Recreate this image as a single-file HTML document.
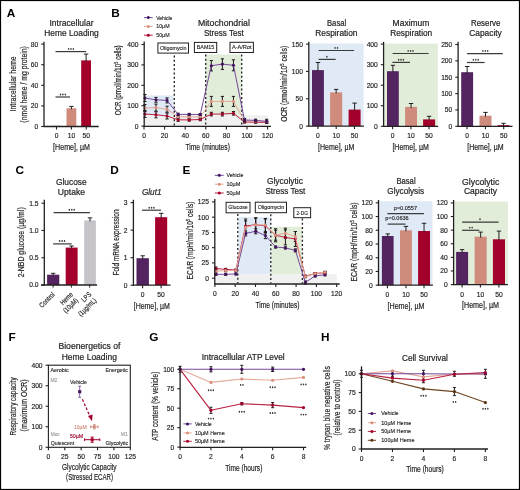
<!DOCTYPE html><html><head><meta charset="utf-8"><style>html,body{margin:0;padding:0;background:#fff;}svg{display:block;will-change:transform;filter:blur(0.3px);}text{font-family:"Liberation Sans",sans-serif;}</style></head><body><svg width="520" height="490" viewBox="0 0 520 490"><rect x="0.5" y="0.5" width="519" height="489" fill="#fff" stroke="#000" stroke-width="1.2"/>
<text x="6.8" y="16.7" font-size="11.8" fill="#000" font-weight="bold">A</text>
<text x="111.2" y="16.6" font-size="11.8" fill="#000" font-weight="bold">B</text>
<text x="15.4" y="174.4" font-size="11.8" fill="#000" font-weight="bold">C</text>
<text x="110.2" y="174.4" font-size="11.8" fill="#000" font-weight="bold">D</text>
<text x="182.4" y="174.4" font-size="11.8" fill="#000" font-weight="bold">E</text>
<text x="8.4" y="340.7" font-size="11.8" fill="#000" font-weight="bold">F</text>
<text x="149.2" y="340.7" font-size="11.8" fill="#000" font-weight="bold">G</text>
<text x="321" y="340.7" font-size="11.8" fill="#000" font-weight="bold">H</text>
<text x="71.5" y="25.8" font-size="8.2" text-anchor="middle" fill="#231f20" stroke="#231f20" stroke-width="0.2" textLength="44" lengthAdjust="spacingAndGlyphs">Intracellular</text>
<text x="71.5" y="36" font-size="8.2" text-anchor="middle" fill="#231f20" stroke="#231f20" stroke-width="0.2" textLength="54.5" lengthAdjust="spacingAndGlyphs">Heme Loading</text>
<rect x="51.5" y="125.88" width="10" height="0.62" fill="#53245f"/>
<rect x="66.5" y="108.27" width="9.8" height="18.23" fill="#cf8c7c"/>
<rect x="81.2" y="60.37" width="9.8" height="66.13" fill="#a3002b"/>
<line x1="71.4" y1="106.41" x2="71.4" y2="109.27" stroke="#231f20" stroke-width="1.0"/>
<line x1="69.2" y1="106.41" x2="73.6" y2="106.41" stroke="#231f20" stroke-width="1.0"/>
<line x1="86.1" y1="54.09" x2="86.1" y2="61.37" stroke="#231f20" stroke-width="1.0"/>
<line x1="83.9" y1="54.09" x2="88.3" y2="54.09" stroke="#231f20" stroke-width="1.0"/>
<line x1="44" y1="41.8" x2="44" y2="127" stroke="#231f20" stroke-width="1.3"/>
<line x1="43.5" y1="126.5" x2="98.7" y2="126.5" stroke="#231f20" stroke-width="1.3"/>
<line x1="41.2" y1="126.5" x2="44" y2="126.5" stroke="#231f20" stroke-width="1.1"/>
<text x="38.2" y="128.9" font-size="6.7" text-anchor="end" fill="#231f20" stroke="#231f20" stroke-width="0.17">0</text>
<line x1="41.2" y1="105.9" x2="44" y2="105.9" stroke="#231f20" stroke-width="1.1"/>
<text x="38.2" y="108.3" font-size="6.7" text-anchor="end" fill="#231f20" stroke="#231f20" stroke-width="0.17">20</text>
<line x1="41.2" y1="85.3" x2="44" y2="85.3" stroke="#231f20" stroke-width="1.1"/>
<text x="38.2" y="87.7" font-size="6.7" text-anchor="end" fill="#231f20" stroke="#231f20" stroke-width="0.17">40</text>
<line x1="41.2" y1="64.7" x2="44" y2="64.7" stroke="#231f20" stroke-width="1.1"/>
<text x="38.2" y="67.1" font-size="6.7" text-anchor="end" fill="#231f20" stroke="#231f20" stroke-width="0.17">60</text>
<line x1="41.2" y1="44.1" x2="44" y2="44.1" stroke="#231f20" stroke-width="1.1"/>
<text x="38.2" y="46.5" font-size="6.7" text-anchor="end" fill="#231f20" stroke="#231f20" stroke-width="0.17">80</text>
<line x1="56.5" y1="126.5" x2="56.5" y2="129.5" stroke="#231f20" stroke-width="1.1"/>
<text x="56.5" y="138.2" font-size="6.7" text-anchor="middle" fill="#231f20" stroke="#231f20" stroke-width="0.17">0</text>
<line x1="71.4" y1="126.5" x2="71.4" y2="129.5" stroke="#231f20" stroke-width="1.1"/>
<text x="71.4" y="138.2" font-size="6.7" text-anchor="middle" fill="#231f20" stroke="#231f20" stroke-width="0.17">10</text>
<line x1="86.2" y1="126.5" x2="86.2" y2="129.5" stroke="#231f20" stroke-width="1.1"/>
<text x="86.2" y="138.2" font-size="6.7" text-anchor="middle" fill="#231f20" stroke="#231f20" stroke-width="0.17">50</text>
<line x1="55.5" y1="51.6" x2="86.1" y2="51.6" stroke="#3a3a3a" stroke-width="1.2"/>
<ellipse cx="68.6" cy="48.9" rx="0.75" ry="0.95" fill="#333"/>
<ellipse cx="71" cy="48.9" rx="0.75" ry="0.95" fill="#333"/>
<ellipse cx="73.4" cy="48.9" rx="0.75" ry="0.95" fill="#333"/>
<line x1="55.5" y1="97" x2="70" y2="97" stroke="#3a3a3a" stroke-width="1.2"/>
<ellipse cx="60.5" cy="94.5" rx="0.75" ry="0.95" fill="#333"/>
<ellipse cx="62.9" cy="94.5" rx="0.75" ry="0.95" fill="#333"/>
<ellipse cx="65.3" cy="94.5" rx="0.75" ry="0.95" fill="#333"/>
<text x="71.5" y="149.8" font-size="8.5" text-anchor="middle" fill="#231f20" stroke="#231f20" stroke-width="0.2" textLength="36.8" lengthAdjust="spacingAndGlyphs">[Heme], µM</text>
<text x="16" y="83.9" font-size="9.2" text-anchor="middle" fill="#231f20" stroke="#231f20" stroke-width="0.2" textLength="55" lengthAdjust="spacingAndGlyphs" transform="rotate(-90 16 83.9)">Intracellular heme</text>
<text x="26.6" y="84.4" font-size="9.2" text-anchor="middle" fill="#231f20" stroke="#231f20" stroke-width="0.2" textLength="76.5" lengthAdjust="spacingAndGlyphs" transform="rotate(-90 26.6 84.4)">(nmol heme / mg protein)</text>
<rect x="144.6" y="95.4" width="28.8" height="19.8" fill="#dfeaf6"/>
<rect x="205.6" y="54.4" width="36" height="60.8" fill="#e2edd9"/>
<rect x="144.6" y="115.2" width="123.4" height="10.8" fill="#f0f0f0"/>
<line x1="174.3" y1="55.5" x2="174.3" y2="126" stroke="#222" stroke-width="1.35" stroke-dasharray="1.9 2.35"/>
<line x1="205.7" y1="54.5" x2="205.7" y2="126" stroke="#222" stroke-width="1.35" stroke-dasharray="1.9 2.35"/>
<line x1="241.7" y1="54.5" x2="241.7" y2="126" stroke="#222" stroke-width="1.35" stroke-dasharray="1.9 2.35"/>
<rect x="157.9" y="43" width="30.6" height="10.1" fill="#fff" stroke="#231f20" stroke-width="1.0"/>
<text x="173.2" y="49.85" font-size="5.0" text-anchor="middle" fill="#231f20" stroke="#231f20" stroke-width="0.12" textLength="26.5" lengthAdjust="spacingAndGlyphs">Oligomycin</text>
<rect x="194.4" y="42.4" width="22.3" height="10.1" fill="#fff" stroke="#231f20" stroke-width="1.0"/>
<text x="205.55" y="49.25" font-size="5.0" text-anchor="middle" fill="#231f20" stroke="#231f20" stroke-width="0.12" textLength="17.5" lengthAdjust="spacingAndGlyphs">BAM15</text>
<rect x="230" y="42.3" width="23.4" height="10.2" fill="#fff" stroke="#231f20" stroke-width="1.0"/>
<text x="241.7" y="49.2" font-size="5.0" text-anchor="middle" fill="#231f20" stroke="#231f20" stroke-width="0.12" textLength="19.5" lengthAdjust="spacingAndGlyphs">A-A/Rot</text>
<line x1="144.9" y1="110.5" x2="144.9" y2="117.5" stroke="#231f20" stroke-width="1.05"/>
<line x1="143.3" y1="110.5" x2="146.5" y2="110.5" stroke="#231f20" stroke-width="1.05"/>
<line x1="143.3" y1="117.5" x2="146.5" y2="117.5" stroke="#231f20" stroke-width="1.05"/>
<line x1="155.97" y1="111.8" x2="155.97" y2="117.8" stroke="#231f20" stroke-width="1.05"/>
<line x1="154.37" y1="111.8" x2="157.57" y2="111.8" stroke="#231f20" stroke-width="1.05"/>
<line x1="154.37" y1="117.8" x2="157.57" y2="117.8" stroke="#231f20" stroke-width="1.05"/>
<line x1="167.04" y1="113" x2="167.04" y2="119" stroke="#231f20" stroke-width="1.05"/>
<line x1="165.44" y1="113" x2="168.64" y2="113" stroke="#231f20" stroke-width="1.05"/>
<line x1="165.44" y1="119" x2="168.64" y2="119" stroke="#231f20" stroke-width="1.05"/>
<line x1="178.11" y1="118.3" x2="178.11" y2="121.3" stroke="#231f20" stroke-width="1.05"/>
<line x1="176.51" y1="118.3" x2="179.71" y2="118.3" stroke="#231f20" stroke-width="1.05"/>
<line x1="176.51" y1="121.3" x2="179.71" y2="121.3" stroke="#231f20" stroke-width="1.05"/>
<line x1="189.18" y1="118.7" x2="189.18" y2="121.1" stroke="#231f20" stroke-width="1.05"/>
<line x1="187.58" y1="118.7" x2="190.78" y2="118.7" stroke="#231f20" stroke-width="1.05"/>
<line x1="187.58" y1="121.1" x2="190.78" y2="121.1" stroke="#231f20" stroke-width="1.05"/>
<line x1="200.25" y1="118.3" x2="200.25" y2="120.7" stroke="#231f20" stroke-width="1.05"/>
<line x1="198.65" y1="118.3" x2="201.85" y2="118.3" stroke="#231f20" stroke-width="1.05"/>
<line x1="198.65" y1="120.7" x2="201.85" y2="120.7" stroke="#231f20" stroke-width="1.05"/>
<line x1="211.32" y1="112.3" x2="211.32" y2="115.9" stroke="#231f20" stroke-width="1.05"/>
<line x1="209.72" y1="112.3" x2="212.92" y2="112.3" stroke="#231f20" stroke-width="1.05"/>
<line x1="209.72" y1="115.9" x2="212.92" y2="115.9" stroke="#231f20" stroke-width="1.05"/>
<line x1="222.39" y1="112.3" x2="222.39" y2="115.9" stroke="#231f20" stroke-width="1.05"/>
<line x1="220.79" y1="112.3" x2="223.99" y2="112.3" stroke="#231f20" stroke-width="1.05"/>
<line x1="220.79" y1="115.9" x2="223.99" y2="115.9" stroke="#231f20" stroke-width="1.05"/>
<line x1="233.46" y1="111.5" x2="233.46" y2="115.1" stroke="#231f20" stroke-width="1.05"/>
<line x1="231.86" y1="111.5" x2="235.06" y2="111.5" stroke="#231f20" stroke-width="1.05"/>
<line x1="231.86" y1="115.1" x2="235.06" y2="115.1" stroke="#231f20" stroke-width="1.05"/>
<line x1="244.53" y1="121" x2="244.53" y2="123" stroke="#231f20" stroke-width="1.05"/>
<line x1="242.93" y1="121" x2="246.13" y2="121" stroke="#231f20" stroke-width="1.05"/>
<line x1="242.93" y1="123" x2="246.13" y2="123" stroke="#231f20" stroke-width="1.05"/>
<line x1="255.6" y1="121.2" x2="255.6" y2="123.2" stroke="#231f20" stroke-width="1.05"/>
<line x1="254" y1="121.2" x2="257.2" y2="121.2" stroke="#231f20" stroke-width="1.05"/>
<line x1="254" y1="123.2" x2="257.2" y2="123.2" stroke="#231f20" stroke-width="1.05"/>
<line x1="266.67" y1="121.4" x2="266.67" y2="123.4" stroke="#231f20" stroke-width="1.05"/>
<line x1="265.07" y1="121.4" x2="268.27" y2="121.4" stroke="#231f20" stroke-width="1.05"/>
<line x1="265.07" y1="123.4" x2="268.27" y2="123.4" stroke="#231f20" stroke-width="1.05"/>
<polyline points="144.9,114 155.97,114.8 167.04,116 178.11,119.8 189.18,119.9 200.25,119.5 211.32,114.1 222.39,114.1 233.46,113.3 244.53,122 255.6,122.2 266.67,122.4" fill="none" stroke="#b8203f" stroke-width="1.0" stroke-linejoin="round"/>
<circle cx="144.9" cy="114" r="1.55" fill="#a3002b"/>
<circle cx="155.97" cy="114.8" r="1.55" fill="#a3002b"/>
<circle cx="167.04" cy="116" r="1.55" fill="#a3002b"/>
<circle cx="178.11" cy="119.8" r="1.55" fill="#a3002b"/>
<circle cx="189.18" cy="119.9" r="1.55" fill="#a3002b"/>
<circle cx="200.25" cy="119.5" r="1.55" fill="#a3002b"/>
<circle cx="211.32" cy="114.1" r="1.55" fill="#a3002b"/>
<circle cx="222.39" cy="114.1" r="1.55" fill="#a3002b"/>
<circle cx="233.46" cy="113.3" r="1.55" fill="#a3002b"/>
<circle cx="244.53" cy="122" r="1.55" fill="#a3002b"/>
<circle cx="255.6" cy="122.2" r="1.55" fill="#a3002b"/>
<circle cx="266.67" cy="122.4" r="1.55" fill="#a3002b"/>
<line x1="144.9" y1="104.5" x2="144.9" y2="111.5" stroke="#231f20" stroke-width="1.05"/>
<line x1="143.3" y1="104.5" x2="146.5" y2="104.5" stroke="#231f20" stroke-width="1.05"/>
<line x1="143.3" y1="111.5" x2="146.5" y2="111.5" stroke="#231f20" stroke-width="1.05"/>
<line x1="155.97" y1="104.1" x2="155.97" y2="111.1" stroke="#231f20" stroke-width="1.05"/>
<line x1="154.37" y1="104.1" x2="157.57" y2="104.1" stroke="#231f20" stroke-width="1.05"/>
<line x1="154.37" y1="111.1" x2="157.57" y2="111.1" stroke="#231f20" stroke-width="1.05"/>
<line x1="167.04" y1="106.2" x2="167.04" y2="112.2" stroke="#231f20" stroke-width="1.05"/>
<line x1="165.44" y1="106.2" x2="168.64" y2="106.2" stroke="#231f20" stroke-width="1.05"/>
<line x1="165.44" y1="112.2" x2="168.64" y2="112.2" stroke="#231f20" stroke-width="1.05"/>
<line x1="178.11" y1="115.7" x2="178.11" y2="117.7" stroke="#231f20" stroke-width="1.05"/>
<line x1="176.51" y1="115.7" x2="179.71" y2="115.7" stroke="#231f20" stroke-width="1.05"/>
<line x1="176.51" y1="117.7" x2="179.71" y2="117.7" stroke="#231f20" stroke-width="1.05"/>
<line x1="189.18" y1="116" x2="189.18" y2="118" stroke="#231f20" stroke-width="1.05"/>
<line x1="187.58" y1="116" x2="190.78" y2="116" stroke="#231f20" stroke-width="1.05"/>
<line x1="187.58" y1="118" x2="190.78" y2="118" stroke="#231f20" stroke-width="1.05"/>
<line x1="200.25" y1="115.8" x2="200.25" y2="117.8" stroke="#231f20" stroke-width="1.05"/>
<line x1="198.65" y1="115.8" x2="201.85" y2="115.8" stroke="#231f20" stroke-width="1.05"/>
<line x1="198.65" y1="117.8" x2="201.85" y2="117.8" stroke="#231f20" stroke-width="1.05"/>
<line x1="211.32" y1="96.4" x2="211.32" y2="106.4" stroke="#231f20" stroke-width="1.05"/>
<line x1="209.72" y1="96.4" x2="212.92" y2="96.4" stroke="#231f20" stroke-width="1.05"/>
<line x1="209.72" y1="106.4" x2="212.92" y2="106.4" stroke="#231f20" stroke-width="1.05"/>
<line x1="222.39" y1="96.4" x2="222.39" y2="106.4" stroke="#231f20" stroke-width="1.05"/>
<line x1="220.79" y1="96.4" x2="223.99" y2="96.4" stroke="#231f20" stroke-width="1.05"/>
<line x1="220.79" y1="106.4" x2="223.99" y2="106.4" stroke="#231f20" stroke-width="1.05"/>
<line x1="233.46" y1="96.4" x2="233.46" y2="106.4" stroke="#231f20" stroke-width="1.05"/>
<line x1="231.86" y1="96.4" x2="235.06" y2="96.4" stroke="#231f20" stroke-width="1.05"/>
<line x1="231.86" y1="106.4" x2="235.06" y2="106.4" stroke="#231f20" stroke-width="1.05"/>
<line x1="244.53" y1="119.8" x2="244.53" y2="121.8" stroke="#231f20" stroke-width="1.05"/>
<line x1="242.93" y1="119.8" x2="246.13" y2="119.8" stroke="#231f20" stroke-width="1.05"/>
<line x1="242.93" y1="121.8" x2="246.13" y2="121.8" stroke="#231f20" stroke-width="1.05"/>
<line x1="255.6" y1="120.2" x2="255.6" y2="122.2" stroke="#231f20" stroke-width="1.05"/>
<line x1="254" y1="120.2" x2="257.2" y2="120.2" stroke="#231f20" stroke-width="1.05"/>
<line x1="254" y1="122.2" x2="257.2" y2="122.2" stroke="#231f20" stroke-width="1.05"/>
<line x1="266.67" y1="120.8" x2="266.67" y2="122.8" stroke="#231f20" stroke-width="1.05"/>
<line x1="265.07" y1="120.8" x2="268.27" y2="120.8" stroke="#231f20" stroke-width="1.05"/>
<line x1="265.07" y1="122.8" x2="268.27" y2="122.8" stroke="#231f20" stroke-width="1.05"/>
<polyline points="144.9,108 155.97,107.6 167.04,109.2 178.11,116.7 189.18,117 200.25,116.8 211.32,101.4 222.39,101.4 233.46,101.4 244.53,120.8 255.6,121.2 266.67,121.8" fill="none" stroke="#e4a898" stroke-width="1.0" stroke-linejoin="round"/>
<circle cx="144.9" cy="108" r="1.55" fill="#d8907f"/>
<circle cx="155.97" cy="107.6" r="1.55" fill="#d8907f"/>
<circle cx="167.04" cy="109.2" r="1.55" fill="#d8907f"/>
<circle cx="178.11" cy="116.7" r="1.55" fill="#d8907f"/>
<circle cx="189.18" cy="117" r="1.55" fill="#d8907f"/>
<circle cx="200.25" cy="116.8" r="1.55" fill="#d8907f"/>
<circle cx="211.32" cy="101.4" r="1.55" fill="#d8907f"/>
<circle cx="222.39" cy="101.4" r="1.55" fill="#d8907f"/>
<circle cx="233.46" cy="101.4" r="1.55" fill="#d8907f"/>
<circle cx="244.53" cy="120.8" r="1.55" fill="#d8907f"/>
<circle cx="255.6" cy="121.2" r="1.55" fill="#d8907f"/>
<circle cx="266.67" cy="121.8" r="1.55" fill="#d8907f"/>
<line x1="144.9" y1="94.5" x2="144.9" y2="101.5" stroke="#231f20" stroke-width="1.05"/>
<line x1="143.3" y1="94.5" x2="146.5" y2="94.5" stroke="#231f20" stroke-width="1.05"/>
<line x1="143.3" y1="101.5" x2="146.5" y2="101.5" stroke="#231f20" stroke-width="1.05"/>
<line x1="155.97" y1="97.4" x2="155.97" y2="102.2" stroke="#231f20" stroke-width="1.05"/>
<line x1="154.37" y1="97.4" x2="157.57" y2="97.4" stroke="#231f20" stroke-width="1.05"/>
<line x1="154.37" y1="102.2" x2="157.57" y2="102.2" stroke="#231f20" stroke-width="1.05"/>
<line x1="167.04" y1="97.9" x2="167.04" y2="102.9" stroke="#231f20" stroke-width="1.05"/>
<line x1="165.44" y1="97.9" x2="168.64" y2="97.9" stroke="#231f20" stroke-width="1.05"/>
<line x1="165.44" y1="102.9" x2="168.64" y2="102.9" stroke="#231f20" stroke-width="1.05"/>
<line x1="178.11" y1="113.2" x2="178.11" y2="115.6" stroke="#231f20" stroke-width="1.05"/>
<line x1="176.51" y1="113.2" x2="179.71" y2="113.2" stroke="#231f20" stroke-width="1.05"/>
<line x1="176.51" y1="115.6" x2="179.71" y2="115.6" stroke="#231f20" stroke-width="1.05"/>
<line x1="189.18" y1="113.4" x2="189.18" y2="115.4" stroke="#231f20" stroke-width="1.05"/>
<line x1="187.58" y1="113.4" x2="190.78" y2="113.4" stroke="#231f20" stroke-width="1.05"/>
<line x1="187.58" y1="115.4" x2="190.78" y2="115.4" stroke="#231f20" stroke-width="1.05"/>
<line x1="200.25" y1="113.5" x2="200.25" y2="115.5" stroke="#231f20" stroke-width="1.05"/>
<line x1="198.65" y1="113.5" x2="201.85" y2="113.5" stroke="#231f20" stroke-width="1.05"/>
<line x1="198.65" y1="115.5" x2="201.85" y2="115.5" stroke="#231f20" stroke-width="1.05"/>
<line x1="211.32" y1="60.5" x2="211.32" y2="70.9" stroke="#231f20" stroke-width="1.05"/>
<line x1="209.72" y1="60.5" x2="212.92" y2="60.5" stroke="#231f20" stroke-width="1.05"/>
<line x1="209.72" y1="70.9" x2="212.92" y2="70.9" stroke="#231f20" stroke-width="1.05"/>
<line x1="222.39" y1="58.8" x2="222.39" y2="69.4" stroke="#231f20" stroke-width="1.05"/>
<line x1="220.79" y1="58.8" x2="223.99" y2="58.8" stroke="#231f20" stroke-width="1.05"/>
<line x1="220.79" y1="69.4" x2="223.99" y2="69.4" stroke="#231f20" stroke-width="1.05"/>
<line x1="233.46" y1="59.8" x2="233.46" y2="70.8" stroke="#231f20" stroke-width="1.05"/>
<line x1="231.86" y1="59.8" x2="235.06" y2="59.8" stroke="#231f20" stroke-width="1.05"/>
<line x1="231.86" y1="70.8" x2="235.06" y2="70.8" stroke="#231f20" stroke-width="1.05"/>
<line x1="244.53" y1="118.5" x2="244.53" y2="121.5" stroke="#231f20" stroke-width="1.05"/>
<line x1="242.93" y1="118.5" x2="246.13" y2="118.5" stroke="#231f20" stroke-width="1.05"/>
<line x1="242.93" y1="121.5" x2="246.13" y2="121.5" stroke="#231f20" stroke-width="1.05"/>
<line x1="255.6" y1="119.2" x2="255.6" y2="121.6" stroke="#231f20" stroke-width="1.05"/>
<line x1="254" y1="119.2" x2="257.2" y2="119.2" stroke="#231f20" stroke-width="1.05"/>
<line x1="254" y1="121.6" x2="257.2" y2="121.6" stroke="#231f20" stroke-width="1.05"/>
<line x1="266.67" y1="119.3" x2="266.67" y2="123.3" stroke="#231f20" stroke-width="1.05"/>
<line x1="265.07" y1="119.3" x2="268.27" y2="119.3" stroke="#231f20" stroke-width="1.05"/>
<line x1="265.07" y1="123.3" x2="268.27" y2="123.3" stroke="#231f20" stroke-width="1.05"/>
<polyline points="144.9,98 155.97,99.8 167.04,100.4 178.11,114.4 189.18,114.4 200.25,114.5 211.32,65.7 222.39,64.1 233.46,65.3 244.53,120 255.6,120.4 266.67,121.3" fill="none" stroke="#74489a" stroke-width="1.0" stroke-linejoin="round"/>
<circle cx="144.9" cy="98" r="1.55" fill="#43125f"/>
<circle cx="155.97" cy="99.8" r="1.55" fill="#43125f"/>
<circle cx="167.04" cy="100.4" r="1.55" fill="#43125f"/>
<circle cx="178.11" cy="114.4" r="1.55" fill="#43125f"/>
<circle cx="189.18" cy="114.4" r="1.55" fill="#43125f"/>
<circle cx="200.25" cy="114.5" r="1.55" fill="#43125f"/>
<circle cx="211.32" cy="65.7" r="1.55" fill="#43125f"/>
<circle cx="222.39" cy="64.1" r="1.55" fill="#43125f"/>
<circle cx="233.46" cy="65.3" r="1.55" fill="#43125f"/>
<circle cx="244.53" cy="120" r="1.55" fill="#43125f"/>
<circle cx="255.6" cy="120.4" r="1.55" fill="#43125f"/>
<circle cx="266.67" cy="121.3" r="1.55" fill="#43125f"/>
<line x1="144.2" y1="41.5" x2="144.2" y2="126.9" stroke="#231f20" stroke-width="1.3"/>
<line x1="143.7" y1="126.4" x2="271" y2="126.4" stroke="#231f20" stroke-width="1.3"/>
<line x1="141.4" y1="126.1" x2="144.2" y2="126.1" stroke="#231f20" stroke-width="1.1"/>
<text x="138.4" y="128.5" font-size="6.7" text-anchor="end" fill="#231f20" stroke="#231f20" stroke-width="0.17">0</text>
<line x1="141.4" y1="105.7" x2="144.2" y2="105.7" stroke="#231f20" stroke-width="1.1"/>
<text x="138.4" y="108.1" font-size="6.7" text-anchor="end" fill="#231f20" stroke="#231f20" stroke-width="0.17">100</text>
<line x1="141.4" y1="85.3" x2="144.2" y2="85.3" stroke="#231f20" stroke-width="1.1"/>
<text x="138.4" y="87.7" font-size="6.7" text-anchor="end" fill="#231f20" stroke="#231f20" stroke-width="0.17">200</text>
<line x1="141.4" y1="64.9" x2="144.2" y2="64.9" stroke="#231f20" stroke-width="1.1"/>
<text x="138.4" y="67.3" font-size="6.7" text-anchor="end" fill="#231f20" stroke="#231f20" stroke-width="0.17">300</text>
<line x1="141.4" y1="44.5" x2="144.2" y2="44.5" stroke="#231f20" stroke-width="1.1"/>
<text x="138.4" y="46.9" font-size="6.7" text-anchor="end" fill="#231f20" stroke="#231f20" stroke-width="0.17">400</text>
<line x1="144" y1="126.4" x2="144" y2="129.4" stroke="#231f20" stroke-width="1.1"/>
<text x="144" y="138.2" font-size="6.7" text-anchor="middle" fill="#231f20" stroke="#231f20" stroke-width="0.17">0</text>
<line x1="164.6" y1="126.4" x2="164.6" y2="129.4" stroke="#231f20" stroke-width="1.1"/>
<text x="164.6" y="138.2" font-size="6.7" text-anchor="middle" fill="#231f20" stroke="#231f20" stroke-width="0.17">20</text>
<line x1="185.2" y1="126.4" x2="185.2" y2="129.4" stroke="#231f20" stroke-width="1.1"/>
<text x="185.2" y="138.2" font-size="6.7" text-anchor="middle" fill="#231f20" stroke="#231f20" stroke-width="0.17">40</text>
<line x1="205.8" y1="126.4" x2="205.8" y2="129.4" stroke="#231f20" stroke-width="1.1"/>
<text x="205.8" y="138.2" font-size="6.7" text-anchor="middle" fill="#231f20" stroke="#231f20" stroke-width="0.17">60</text>
<line x1="226.4" y1="126.4" x2="226.4" y2="129.4" stroke="#231f20" stroke-width="1.1"/>
<text x="226.4" y="138.2" font-size="6.7" text-anchor="middle" fill="#231f20" stroke="#231f20" stroke-width="0.17">80</text>
<line x1="247" y1="126.4" x2="247" y2="129.4" stroke="#231f20" stroke-width="1.1"/>
<text x="247" y="138.2" font-size="6.7" text-anchor="middle" fill="#231f20" stroke="#231f20" stroke-width="0.17">100</text>
<line x1="267.6" y1="126.4" x2="267.6" y2="129.4" stroke="#231f20" stroke-width="1.1"/>
<text x="267.6" y="138.2" font-size="6.7" text-anchor="middle" fill="#231f20" stroke="#231f20" stroke-width="0.17">120</text>
<text x="207.7" y="149.6" font-size="8.5" text-anchor="middle" fill="#231f20" stroke="#231f20" stroke-width="0.2" textLength="44.5" lengthAdjust="spacingAndGlyphs">Time (minutes)</text>
<text x="121.3" y="80.3" font-size="9.2" text-anchor="middle" fill="#231f20" stroke="#231f20" stroke-width="0.2" textLength="70" lengthAdjust="spacingAndGlyphs" transform="rotate(-90 121.3 80.3)">OCR (pmol/min/10<tspan font-size="5.6" dy="-2.9">5</tspan><tspan dy="2.9"> cells)</tspan></text>
<text x="223.9" y="25.8" font-size="8.2" text-anchor="middle" fill="#231f20" stroke="#231f20" stroke-width="0.2" textLength="52" lengthAdjust="spacingAndGlyphs">Mitochondrial</text>
<text x="223.9" y="36.2" font-size="8.2" text-anchor="middle" fill="#231f20" stroke="#231f20" stroke-width="0.2" textLength="40" lengthAdjust="spacingAndGlyphs">Stress Test</text>
<line x1="144" y1="17.6" x2="152.7" y2="17.6" stroke="#74489a" stroke-width="1.0"/>
<circle cx="148.3" cy="17.6" r="1.5" fill="#43125f"/>
<text x="156.2" y="19.51" font-size="5.3" fill="#231f20" stroke="#231f20" stroke-width="0.13" textLength="16.1" lengthAdjust="spacingAndGlyphs">Vehicle</text>
<line x1="144" y1="26.4" x2="152.7" y2="26.4" stroke="#e4a898" stroke-width="1.0"/>
<circle cx="148.3" cy="26.4" r="1.5" fill="#d8907f"/>
<text x="156.2" y="28.31" font-size="5.3" fill="#231f20" stroke="#231f20" stroke-width="0.13" textLength="13.4" lengthAdjust="spacingAndGlyphs">10µM</text>
<line x1="144" y1="35.2" x2="152.7" y2="35.2" stroke="#b8203f" stroke-width="1.0"/>
<circle cx="148.3" cy="35.2" r="1.5" fill="#a3002b"/>
<text x="156.2" y="37.11" font-size="5.3" fill="#231f20" stroke="#231f20" stroke-width="0.13" textLength="13.4" lengthAdjust="spacingAndGlyphs">50µM</text>
<rect x="309.4" y="43.4" width="54.2" height="82.2" fill="#dfeaf6"/>
<rect x="312" y="70.1" width="11.9" height="56" fill="#53245f"/>
<line x1="317.95" y1="62.5" x2="317.95" y2="71.1" stroke="#231f20" stroke-width="1.0"/>
<line x1="315.75" y1="62.5" x2="320.15" y2="62.5" stroke="#231f20" stroke-width="1.0"/>
<rect x="330.1" y="92.4" width="12.1" height="33.7" fill="#cf8c7c"/>
<line x1="336.15" y1="89.4" x2="336.15" y2="93.4" stroke="#231f20" stroke-width="1.0"/>
<line x1="333.95" y1="89.4" x2="338.35" y2="89.4" stroke="#231f20" stroke-width="1.0"/>
<rect x="348.6" y="109.6" width="12" height="16.5" fill="#a3002b"/>
<line x1="354.6" y1="103.1" x2="354.6" y2="110.6" stroke="#231f20" stroke-width="1.0"/>
<line x1="352.4" y1="103.1" x2="356.8" y2="103.1" stroke="#231f20" stroke-width="1.0"/>
<line x1="308.8" y1="41.8" x2="308.8" y2="126.6" stroke="#231f20" stroke-width="1.3"/>
<line x1="308.3" y1="126.1" x2="364" y2="126.1" stroke="#231f20" stroke-width="1.3"/>
<line x1="306" y1="126.1" x2="308.8" y2="126.1" stroke="#231f20" stroke-width="1.1"/>
<text x="303" y="128.5" font-size="6.7" text-anchor="end" fill="#231f20" stroke="#231f20" stroke-width="0.17">0</text>
<line x1="306" y1="98.77" x2="308.8" y2="98.77" stroke="#231f20" stroke-width="1.1"/>
<text x="303" y="101.17" font-size="6.7" text-anchor="end" fill="#231f20" stroke="#231f20" stroke-width="0.17">50</text>
<line x1="306" y1="71.43" x2="308.8" y2="71.43" stroke="#231f20" stroke-width="1.1"/>
<text x="303" y="73.83" font-size="6.7" text-anchor="end" fill="#231f20" stroke="#231f20" stroke-width="0.17">100</text>
<line x1="306" y1="44.1" x2="308.8" y2="44.1" stroke="#231f20" stroke-width="1.1"/>
<text x="303" y="46.5" font-size="6.7" text-anchor="end" fill="#231f20" stroke="#231f20" stroke-width="0.17">150</text>
<line x1="317.9" y1="126.1" x2="317.9" y2="129.1" stroke="#231f20" stroke-width="1.1"/>
<text x="317.9" y="138.1" font-size="6.7" text-anchor="middle" fill="#231f20" stroke="#231f20" stroke-width="0.17">0</text>
<line x1="336.2" y1="126.1" x2="336.2" y2="129.1" stroke="#231f20" stroke-width="1.1"/>
<text x="336.2" y="138.1" font-size="6.7" text-anchor="middle" fill="#231f20" stroke="#231f20" stroke-width="0.17">10</text>
<line x1="354.5" y1="126.1" x2="354.5" y2="129.1" stroke="#231f20" stroke-width="1.1"/>
<text x="354.5" y="138.1" font-size="6.7" text-anchor="middle" fill="#231f20" stroke="#231f20" stroke-width="0.17">50</text>
<line x1="318.6" y1="50.5" x2="354.1" y2="50.5" stroke="#3a3a3a" stroke-width="1.2"/>
<ellipse cx="335.1" cy="47.9" rx="0.75" ry="0.95" fill="#333"/>
<ellipse cx="337.5" cy="47.9" rx="0.75" ry="0.95" fill="#333"/>
<line x1="318.6" y1="59.4" x2="335.7" y2="59.4" stroke="#3a3a3a" stroke-width="1.2"/>
<ellipse cx="326.9" cy="56.8" rx="0.75" ry="0.95" fill="#333"/>
<text x="336.6" y="25.8" font-size="8.2" text-anchor="middle" fill="#231f20" stroke="#231f20" stroke-width="0.2" textLength="19.2" lengthAdjust="spacingAndGlyphs">Basal</text>
<text x="336.4" y="35.9" font-size="8.2" text-anchor="middle" fill="#231f20" stroke="#231f20" stroke-width="0.2" textLength="42.2" lengthAdjust="spacingAndGlyphs">Respiration</text>
<text x="336.2" y="149.7" font-size="8.5" text-anchor="middle" fill="#231f20" stroke="#231f20" stroke-width="0.2" textLength="36.4" lengthAdjust="spacingAndGlyphs">[Heme], µM</text>
<text x="286.7" y="83.8" font-size="9.2" text-anchor="middle" fill="#231f20" stroke="#231f20" stroke-width="0.2" textLength="76" lengthAdjust="spacingAndGlyphs" transform="rotate(-90 286.7 83.8)">OCR (pmol/min/10<tspan font-size="5.6" dy="-2.9">5</tspan><tspan dy="2.9"> cells)</tspan></text>
<rect x="384.3" y="43.6" width="53.5" height="82.2" fill="#e2edd9"/>
<rect x="387" y="71.2" width="11.8" height="55.1" fill="#53245f"/>
<line x1="392.9" y1="65.3" x2="392.9" y2="72.2" stroke="#231f20" stroke-width="1.0"/>
<line x1="390.7" y1="65.3" x2="395.1" y2="65.3" stroke="#231f20" stroke-width="1.0"/>
<rect x="405.1" y="106.9" width="11.9" height="19.4" fill="#cf8c7c"/>
<line x1="411.05" y1="103.5" x2="411.05" y2="107.9" stroke="#231f20" stroke-width="1.0"/>
<line x1="408.85" y1="103.5" x2="413.25" y2="103.5" stroke="#231f20" stroke-width="1.0"/>
<rect x="423.1" y="119.4" width="12" height="6.9" fill="#a3002b"/>
<line x1="429.1" y1="116.3" x2="429.1" y2="120.4" stroke="#231f20" stroke-width="1.0"/>
<line x1="426.9" y1="116.3" x2="431.3" y2="116.3" stroke="#231f20" stroke-width="1.0"/>
<line x1="383.6" y1="41.8" x2="383.6" y2="126.8" stroke="#231f20" stroke-width="1.3"/>
<line x1="383.1" y1="126.3" x2="438.2" y2="126.3" stroke="#231f20" stroke-width="1.3"/>
<line x1="380.8" y1="126.3" x2="383.6" y2="126.3" stroke="#231f20" stroke-width="1.1"/>
<text x="377.8" y="128.7" font-size="6.7" text-anchor="end" fill="#231f20" stroke="#231f20" stroke-width="0.17">0</text>
<line x1="380.8" y1="105.75" x2="383.6" y2="105.75" stroke="#231f20" stroke-width="1.1"/>
<text x="377.8" y="108.15" font-size="6.7" text-anchor="end" fill="#231f20" stroke="#231f20" stroke-width="0.17">100</text>
<line x1="380.8" y1="85.2" x2="383.6" y2="85.2" stroke="#231f20" stroke-width="1.1"/>
<text x="377.8" y="87.6" font-size="6.7" text-anchor="end" fill="#231f20" stroke="#231f20" stroke-width="0.17">200</text>
<line x1="380.8" y1="64.65" x2="383.6" y2="64.65" stroke="#231f20" stroke-width="1.1"/>
<text x="377.8" y="67.05" font-size="6.7" text-anchor="end" fill="#231f20" stroke="#231f20" stroke-width="0.17">300</text>
<line x1="380.8" y1="44.1" x2="383.6" y2="44.1" stroke="#231f20" stroke-width="1.1"/>
<text x="377.8" y="46.5" font-size="6.7" text-anchor="end" fill="#231f20" stroke="#231f20" stroke-width="0.17">400</text>
<line x1="392.6" y1="126.3" x2="392.6" y2="129.3" stroke="#231f20" stroke-width="1.1"/>
<text x="392.6" y="138.3" font-size="6.7" text-anchor="middle" fill="#231f20" stroke="#231f20" stroke-width="0.17">0</text>
<line x1="410.9" y1="126.3" x2="410.9" y2="129.3" stroke="#231f20" stroke-width="1.1"/>
<text x="410.9" y="138.3" font-size="6.7" text-anchor="middle" fill="#231f20" stroke="#231f20" stroke-width="0.17">10</text>
<line x1="429" y1="126.3" x2="429" y2="129.3" stroke="#231f20" stroke-width="1.1"/>
<text x="429" y="138.3" font-size="6.7" text-anchor="middle" fill="#231f20" stroke="#231f20" stroke-width="0.17">50</text>
<line x1="392.6" y1="53.5" x2="428.6" y2="53.5" stroke="#3a3a3a" stroke-width="1.2"/>
<ellipse cx="408.2" cy="50.9" rx="0.75" ry="0.95" fill="#333"/>
<ellipse cx="410.6" cy="50.9" rx="0.75" ry="0.95" fill="#333"/>
<ellipse cx="413" cy="50.9" rx="0.75" ry="0.95" fill="#333"/>
<line x1="392.4" y1="62.4" x2="410" y2="62.4" stroke="#3a3a3a" stroke-width="1.2"/>
<ellipse cx="398.6" cy="59.7" rx="0.75" ry="0.95" fill="#333"/>
<ellipse cx="401" cy="59.7" rx="0.75" ry="0.95" fill="#333"/>
<ellipse cx="403.4" cy="59.7" rx="0.75" ry="0.95" fill="#333"/>
<text x="411" y="25.8" font-size="8.2" text-anchor="middle" fill="#231f20" stroke="#231f20" stroke-width="0.2" textLength="36.8" lengthAdjust="spacingAndGlyphs">Maximum</text>
<text x="411.2" y="35.9" font-size="8.2" text-anchor="middle" fill="#231f20" stroke="#231f20" stroke-width="0.2" textLength="42.1" lengthAdjust="spacingAndGlyphs">Respiration</text>
<text x="410.6" y="149.6" font-size="8.5" text-anchor="middle" fill="#231f20" stroke="#231f20" stroke-width="0.2" textLength="36.4" lengthAdjust="spacingAndGlyphs">[Heme], µM</text>
<rect x="461.2" y="72.2" width="11.9" height="54.1" fill="#53245f"/>
<line x1="467.15" y1="66.5" x2="467.15" y2="73.2" stroke="#231f20" stroke-width="1.0"/>
<line x1="464.95" y1="66.5" x2="469.35" y2="66.5" stroke="#231f20" stroke-width="1.0"/>
<rect x="479.5" y="115.7" width="12" height="10.6" fill="#cf8c7c"/>
<line x1="485.5" y1="112.4" x2="485.5" y2="116.7" stroke="#231f20" stroke-width="1.0"/>
<line x1="483.3" y1="112.4" x2="487.7" y2="112.4" stroke="#231f20" stroke-width="1.0"/>
<rect x="497.6" y="125.2" width="11.9" height="1.1" fill="#a3002b"/>
<line x1="503.55" y1="123.3" x2="503.55" y2="126.2" stroke="#231f20" stroke-width="1.0"/>
<line x1="501.35" y1="123.3" x2="505.75" y2="123.3" stroke="#231f20" stroke-width="1.0"/>
<line x1="458.1" y1="41.8" x2="458.1" y2="126.8" stroke="#231f20" stroke-width="1.3"/>
<line x1="457.6" y1="126.3" x2="512.5" y2="126.3" stroke="#231f20" stroke-width="1.3"/>
<line x1="455.3" y1="126.3" x2="458.1" y2="126.3" stroke="#231f20" stroke-width="1.1"/>
<text x="452.3" y="128.7" font-size="6.7" text-anchor="end" fill="#231f20" stroke="#231f20" stroke-width="0.17">0</text>
<line x1="455.3" y1="109.94" x2="458.1" y2="109.94" stroke="#231f20" stroke-width="1.1"/>
<text x="452.3" y="112.34" font-size="6.7" text-anchor="end" fill="#231f20" stroke="#231f20" stroke-width="0.17">50</text>
<line x1="455.3" y1="93.58" x2="458.1" y2="93.58" stroke="#231f20" stroke-width="1.1"/>
<text x="452.3" y="95.98" font-size="6.7" text-anchor="end" fill="#231f20" stroke="#231f20" stroke-width="0.17">100</text>
<line x1="455.3" y1="77.22" x2="458.1" y2="77.22" stroke="#231f20" stroke-width="1.1"/>
<text x="452.3" y="79.62" font-size="6.7" text-anchor="end" fill="#231f20" stroke="#231f20" stroke-width="0.17">150</text>
<line x1="455.3" y1="60.86" x2="458.1" y2="60.86" stroke="#231f20" stroke-width="1.1"/>
<text x="452.3" y="63.26" font-size="6.7" text-anchor="end" fill="#231f20" stroke="#231f20" stroke-width="0.17">200</text>
<line x1="455.3" y1="44.5" x2="458.1" y2="44.5" stroke="#231f20" stroke-width="1.1"/>
<text x="452.3" y="46.9" font-size="6.7" text-anchor="end" fill="#231f20" stroke="#231f20" stroke-width="0.17">250</text>
<line x1="467" y1="126.3" x2="467" y2="129.3" stroke="#231f20" stroke-width="1.1"/>
<text x="467" y="138.3" font-size="6.7" text-anchor="middle" fill="#231f20" stroke="#231f20" stroke-width="0.17">0</text>
<line x1="485.4" y1="126.3" x2="485.4" y2="129.3" stroke="#231f20" stroke-width="1.1"/>
<text x="485.4" y="138.3" font-size="6.7" text-anchor="middle" fill="#231f20" stroke="#231f20" stroke-width="0.17">10</text>
<line x1="503.7" y1="126.3" x2="503.7" y2="129.3" stroke="#231f20" stroke-width="1.1"/>
<text x="503.7" y="138.3" font-size="6.7" text-anchor="middle" fill="#231f20" stroke="#231f20" stroke-width="0.17">50</text>
<line x1="467.1" y1="53.6" x2="502.8" y2="53.6" stroke="#3a3a3a" stroke-width="1.2"/>
<ellipse cx="482.9" cy="50.9" rx="0.75" ry="0.95" fill="#333"/>
<ellipse cx="485.3" cy="50.9" rx="0.75" ry="0.95" fill="#333"/>
<ellipse cx="487.7" cy="50.9" rx="0.75" ry="0.95" fill="#333"/>
<line x1="467" y1="62.5" x2="484.7" y2="62.5" stroke="#3a3a3a" stroke-width="1.2"/>
<ellipse cx="473.4" cy="59.8" rx="0.75" ry="0.95" fill="#333"/>
<ellipse cx="475.8" cy="59.8" rx="0.75" ry="0.95" fill="#333"/>
<ellipse cx="478.2" cy="59.8" rx="0.75" ry="0.95" fill="#333"/>
<text x="485.7" y="26.2" font-size="8.2" text-anchor="middle" fill="#231f20" stroke="#231f20" stroke-width="0.2" textLength="29.4" lengthAdjust="spacingAndGlyphs">Reserve</text>
<text x="485.5" y="36.2" font-size="8.2" text-anchor="middle" fill="#231f20" stroke="#231f20" stroke-width="0.2" textLength="32.6" lengthAdjust="spacingAndGlyphs">Capacity</text>
<text x="485.4" y="149.6" font-size="8.5" text-anchor="middle" fill="#231f20" stroke="#231f20" stroke-width="0.2" textLength="36.4" lengthAdjust="spacingAndGlyphs">[Heme], µM</text>
<text x="71.3" y="184.5" font-size="8.2" text-anchor="middle" fill="#231f20" stroke="#231f20" stroke-width="0.2" textLength="30.8" lengthAdjust="spacingAndGlyphs">Glucose</text>
<text x="71.4" y="194.5" font-size="8.2" text-anchor="middle" fill="#231f20" stroke="#231f20" stroke-width="0.2" textLength="27.3" lengthAdjust="spacingAndGlyphs">Uptake</text>
<rect x="47.1" y="274.7" width="12.2" height="10.3" fill="#53245f"/>
<rect x="65.7" y="247.6" width="11.9" height="37.4" fill="#a3002b"/>
<rect x="84.2" y="220.4" width="11.7" height="64.6" fill="#c7c4c9"/>
<line x1="53.2" y1="273.3" x2="53.2" y2="275.5" stroke="#231f20" stroke-width="1.0"/>
<line x1="51" y1="273.3" x2="55.4" y2="273.3" stroke="#231f20" stroke-width="1.0"/>
<line x1="71.6" y1="246" x2="71.6" y2="248.5" stroke="#231f20" stroke-width="1.0"/>
<line x1="69.4" y1="246" x2="73.8" y2="246" stroke="#231f20" stroke-width="1.0"/>
<line x1="90" y1="217.9" x2="90" y2="221.4" stroke="#231f20" stroke-width="1.0"/>
<line x1="87.8" y1="217.9" x2="92.2" y2="217.9" stroke="#231f20" stroke-width="1.0"/>
<line x1="44.3" y1="199.8" x2="44.3" y2="285.5" stroke="#231f20" stroke-width="1.3"/>
<line x1="41" y1="285" x2="97.1" y2="285" stroke="#231f20" stroke-width="1.3"/>
<line x1="41.5" y1="285" x2="44.3" y2="285" stroke="#231f20" stroke-width="1.1"/>
<text x="38.5" y="287.4" font-size="6.7" text-anchor="end" fill="#231f20" stroke="#231f20" stroke-width="0.17">0.0</text>
<line x1="41.5" y1="257.73" x2="44.3" y2="257.73" stroke="#231f20" stroke-width="1.1"/>
<text x="38.5" y="260.13" font-size="6.7" text-anchor="end" fill="#231f20" stroke="#231f20" stroke-width="0.17">0.5</text>
<line x1="41.5" y1="230.47" x2="44.3" y2="230.47" stroke="#231f20" stroke-width="1.1"/>
<text x="38.5" y="232.87" font-size="6.7" text-anchor="end" fill="#231f20" stroke="#231f20" stroke-width="0.17">1.0</text>
<line x1="41.5" y1="203.2" x2="44.3" y2="203.2" stroke="#231f20" stroke-width="1.1"/>
<text x="38.5" y="205.6" font-size="6.7" text-anchor="end" fill="#231f20" stroke="#231f20" stroke-width="0.17">1.5</text>
<line x1="53.1" y1="285" x2="53.1" y2="287.6" stroke="#231f20" stroke-width="1.0"/>
<line x1="71.4" y1="285" x2="71.4" y2="287.6" stroke="#231f20" stroke-width="1.0"/>
<line x1="89.7" y1="285" x2="89.7" y2="287.6" stroke="#231f20" stroke-width="1.0"/>
<line x1="53.6" y1="212.7" x2="89.9" y2="212.7" stroke="#3a3a3a" stroke-width="1.2"/>
<ellipse cx="69.4" cy="209.8" rx="0.75" ry="0.95" fill="#333"/>
<ellipse cx="71.8" cy="209.8" rx="0.75" ry="0.95" fill="#333"/>
<ellipse cx="74.2" cy="209.8" rx="0.75" ry="0.95" fill="#333"/>
<line x1="53.1" y1="243.9" x2="71.7" y2="243.9" stroke="#3a3a3a" stroke-width="1.2"/>
<ellipse cx="59.7" cy="241" rx="0.75" ry="0.95" fill="#333"/>
<ellipse cx="62.1" cy="241" rx="0.75" ry="0.95" fill="#333"/>
<ellipse cx="64.5" cy="241" rx="0.75" ry="0.95" fill="#333"/>
<text x="24.2" y="242.3" font-size="9.2" text-anchor="middle" fill="#231f20" stroke="#231f20" stroke-width="0.2" textLength="70" lengthAdjust="spacingAndGlyphs" transform="rotate(-90 24.2 242.3)">2-NBD glucose (µg/ml)</text>
<text x="55.2" y="295" font-size="7.2" text-anchor="end" fill="#231f20" stroke="#231f20" stroke-width="0.18" textLength="18.6" lengthAdjust="spacingAndGlyphs" transform="rotate(-45 55.2 295)">Control</text>
<text x="73.5" y="295" font-size="7.2" text-anchor="end" fill="#231f20" stroke="#231f20" stroke-width="0.18" textLength="14.8" lengthAdjust="spacingAndGlyphs" transform="rotate(-45 73.5 295)">Heme</text>
<text x="78.6" y="301" font-size="7.2" text-anchor="end" fill="#231f20" stroke="#231f20" stroke-width="0.18" textLength="17.8" lengthAdjust="spacingAndGlyphs" transform="rotate(-45 78.6 301)">(10µM)</text>
<text x="91.8" y="295" font-size="7.2" text-anchor="end" fill="#231f20" stroke="#231f20" stroke-width="0.18" textLength="10.5" lengthAdjust="spacingAndGlyphs" transform="rotate(-45 91.8 295)">LPS</text>
<text x="96.9" y="301" font-size="7.2" text-anchor="end" fill="#231f20" stroke="#231f20" stroke-width="0.18" textLength="22.4" lengthAdjust="spacingAndGlyphs" transform="rotate(-45 96.9 301)">(1µg/mL)</text>
<text x="141.9" y="194.5" font-size="8.2" fill="#231f20" stroke="#231f20" stroke-width="0.2" textLength="19.6" lengthAdjust="spacingAndGlyphs" font-style="italic">Glut1</text>
<rect x="136.5" y="258.2" width="12.4" height="27" fill="#53245f"/>
<rect x="155.1" y="217.2" width="12.1" height="68" fill="#a3002b"/>
<line x1="142.7" y1="255.8" x2="142.7" y2="259.2" stroke="#231f20" stroke-width="1.0"/>
<line x1="140.5" y1="255.8" x2="144.9" y2="255.8" stroke="#231f20" stroke-width="1.0"/>
<line x1="161.2" y1="213.3" x2="161.2" y2="218.2" stroke="#231f20" stroke-width="1.0"/>
<line x1="159" y1="213.3" x2="163.4" y2="213.3" stroke="#231f20" stroke-width="1.0"/>
<line x1="133.4" y1="199.8" x2="133.4" y2="285.7" stroke="#231f20" stroke-width="1.3"/>
<line x1="133" y1="285.2" x2="170.5" y2="285.2" stroke="#231f20" stroke-width="1.3"/>
<line x1="130.6" y1="285.2" x2="133.4" y2="285.2" stroke="#231f20" stroke-width="1.1"/>
<text x="127.6" y="287.6" font-size="6.7" text-anchor="end" fill="#231f20" stroke="#231f20" stroke-width="0.17">0</text>
<line x1="130.6" y1="257.67" x2="133.4" y2="257.67" stroke="#231f20" stroke-width="1.1"/>
<text x="127.6" y="260.07" font-size="6.7" text-anchor="end" fill="#231f20" stroke="#231f20" stroke-width="0.17">1</text>
<line x1="130.6" y1="230.13" x2="133.4" y2="230.13" stroke="#231f20" stroke-width="1.1"/>
<text x="127.6" y="232.53" font-size="6.7" text-anchor="end" fill="#231f20" stroke="#231f20" stroke-width="0.17">2</text>
<line x1="130.6" y1="202.6" x2="133.4" y2="202.6" stroke="#231f20" stroke-width="1.1"/>
<text x="127.6" y="205" font-size="6.7" text-anchor="end" fill="#231f20" stroke="#231f20" stroke-width="0.17">3</text>
<line x1="142.6" y1="285.2" x2="142.6" y2="288.2" stroke="#231f20" stroke-width="1.1"/>
<text x="142.6" y="297" font-size="6.7" text-anchor="middle" fill="#231f20" stroke="#231f20" stroke-width="0.17">0</text>
<line x1="161.1" y1="285.2" x2="161.1" y2="288.2" stroke="#231f20" stroke-width="1.1"/>
<text x="161.1" y="297" font-size="6.7" text-anchor="middle" fill="#231f20" stroke="#231f20" stroke-width="0.17">50</text>
<line x1="142" y1="210.2" x2="161" y2="210.2" stroke="#3a3a3a" stroke-width="1.2"/>
<ellipse cx="149.2" cy="207.7" rx="0.75" ry="0.95" fill="#333"/>
<ellipse cx="151.6" cy="207.7" rx="0.75" ry="0.95" fill="#333"/>
<ellipse cx="154" cy="207.7" rx="0.75" ry="0.95" fill="#333"/>
<text x="151.8" y="308.5" font-size="8.5" text-anchor="middle" fill="#231f20" stroke="#231f20" stroke-width="0.2" textLength="36.2" lengthAdjust="spacingAndGlyphs">[Heme], µM</text>
<text x="119.3" y="242.5" font-size="9.2" text-anchor="middle" fill="#231f20" stroke="#231f20" stroke-width="0.2" textLength="66" lengthAdjust="spacingAndGlyphs" transform="rotate(-90 119.3 242.5)">Fold mRNA expression</text>
<rect x="238.5" y="217" width="32.1" height="57.3" fill="#dfeaf6"/>
<rect x="271.2" y="226.7" width="30.8" height="47.6" fill="#e2edd9"/>
<rect x="216.5" y="274.3" width="120.2" height="9.1" fill="#f0f0f0"/>
<line x1="237.8" y1="214" x2="237.8" y2="283.5" stroke="#222" stroke-width="1.35" stroke-dasharray="1.9 2.35"/>
<line x1="270.8" y1="214.3" x2="270.8" y2="283.5" stroke="#222" stroke-width="1.35" stroke-dasharray="1.9 2.35"/>
<line x1="302.4" y1="218.6" x2="302.4" y2="283.5" stroke="#222" stroke-width="1.35" stroke-dasharray="1.9 2.35"/>
<rect x="226.1" y="202.3" width="23.9" height="10.5" fill="#fff" stroke="#231f20" stroke-width="1.0"/>
<text x="238.05" y="209.35" font-size="5.0" text-anchor="middle" fill="#231f20" stroke="#231f20" stroke-width="0.12" textLength="19.5" lengthAdjust="spacingAndGlyphs">Glucose</text>
<rect x="255.3" y="202.2" width="31.2" height="10.5" fill="#fff" stroke="#231f20" stroke-width="1.0"/>
<text x="270.9" y="209.25" font-size="5.0" text-anchor="middle" fill="#231f20" stroke="#231f20" stroke-width="0.12" textLength="26.5" lengthAdjust="spacingAndGlyphs">Oligomycin</text>
<rect x="293.8" y="207.7" width="16.8" height="10" fill="#fff" stroke="#231f20" stroke-width="1.0"/>
<text x="302.2" y="214.5" font-size="5.0" text-anchor="middle" fill="#231f20" stroke="#231f20" stroke-width="0.12" textLength="11.5" lengthAdjust="spacingAndGlyphs">2-DG</text>
<line x1="215.9" y1="273.3" x2="215.9" y2="275.3" stroke="#231f20" stroke-width="1.05"/>
<line x1="214.3" y1="273.3" x2="217.5" y2="273.3" stroke="#231f20" stroke-width="1.05"/>
<line x1="214.3" y1="275.3" x2="217.5" y2="275.3" stroke="#231f20" stroke-width="1.05"/>
<line x1="225.7" y1="273.3" x2="225.7" y2="275.3" stroke="#231f20" stroke-width="1.05"/>
<line x1="224.1" y1="273.3" x2="227.3" y2="273.3" stroke="#231f20" stroke-width="1.05"/>
<line x1="224.1" y1="275.3" x2="227.3" y2="275.3" stroke="#231f20" stroke-width="1.05"/>
<line x1="235.9" y1="272.9" x2="235.9" y2="274.9" stroke="#231f20" stroke-width="1.05"/>
<line x1="234.3" y1="272.9" x2="237.5" y2="272.9" stroke="#231f20" stroke-width="1.05"/>
<line x1="234.3" y1="274.9" x2="237.5" y2="274.9" stroke="#231f20" stroke-width="1.05"/>
<line x1="245.6" y1="230.9" x2="245.6" y2="235.9" stroke="#231f20" stroke-width="1.05"/>
<line x1="244" y1="230.9" x2="247.2" y2="230.9" stroke="#231f20" stroke-width="1.05"/>
<line x1="244" y1="235.9" x2="247.2" y2="235.9" stroke="#231f20" stroke-width="1.05"/>
<line x1="255.7" y1="228.8" x2="255.7" y2="233.8" stroke="#231f20" stroke-width="1.05"/>
<line x1="254.1" y1="228.8" x2="257.3" y2="228.8" stroke="#231f20" stroke-width="1.05"/>
<line x1="254.1" y1="233.8" x2="257.3" y2="233.8" stroke="#231f20" stroke-width="1.05"/>
<line x1="265.4" y1="232.6" x2="265.4" y2="238.6" stroke="#231f20" stroke-width="1.05"/>
<line x1="263.8" y1="232.6" x2="267" y2="232.6" stroke="#231f20" stroke-width="1.05"/>
<line x1="263.8" y1="238.6" x2="267" y2="238.6" stroke="#231f20" stroke-width="1.05"/>
<line x1="275.6" y1="246" x2="275.6" y2="248" stroke="#231f20" stroke-width="1.05"/>
<line x1="274" y1="246" x2="277.2" y2="246" stroke="#231f20" stroke-width="1.05"/>
<line x1="274" y1="248" x2="277.2" y2="248" stroke="#231f20" stroke-width="1.05"/>
<line x1="285.4" y1="246.9" x2="285.4" y2="248.9" stroke="#231f20" stroke-width="1.05"/>
<line x1="283.8" y1="246.9" x2="287" y2="246.9" stroke="#231f20" stroke-width="1.05"/>
<line x1="283.8" y1="248.9" x2="287" y2="248.9" stroke="#231f20" stroke-width="1.05"/>
<line x1="295.4" y1="248.9" x2="295.4" y2="251.9" stroke="#231f20" stroke-width="1.05"/>
<line x1="293.8" y1="248.9" x2="297" y2="248.9" stroke="#231f20" stroke-width="1.05"/>
<line x1="293.8" y1="251.9" x2="297" y2="251.9" stroke="#231f20" stroke-width="1.05"/>
<line x1="305.4" y1="280.9" x2="305.4" y2="283.9" stroke="#231f20" stroke-width="1.05"/>
<line x1="303.8" y1="280.9" x2="307" y2="280.9" stroke="#231f20" stroke-width="1.05"/>
<line x1="303.8" y1="283.9" x2="307" y2="283.9" stroke="#231f20" stroke-width="1.05"/>
<line x1="315.2" y1="274.9" x2="315.2" y2="276.9" stroke="#231f20" stroke-width="1.05"/>
<line x1="313.6" y1="274.9" x2="316.8" y2="274.9" stroke="#231f20" stroke-width="1.05"/>
<line x1="313.6" y1="276.9" x2="316.8" y2="276.9" stroke="#231f20" stroke-width="1.05"/>
<line x1="325" y1="273.8" x2="325" y2="275.8" stroke="#231f20" stroke-width="1.05"/>
<line x1="323.4" y1="273.8" x2="326.6" y2="273.8" stroke="#231f20" stroke-width="1.05"/>
<line x1="323.4" y1="275.8" x2="326.6" y2="275.8" stroke="#231f20" stroke-width="1.05"/>
<line x1="215.9" y1="267" x2="215.9" y2="270" stroke="#231f20" stroke-width="1.05"/>
<line x1="214.3" y1="267" x2="217.5" y2="267" stroke="#231f20" stroke-width="1.05"/>
<line x1="214.3" y1="270" x2="217.5" y2="270" stroke="#231f20" stroke-width="1.05"/>
<line x1="225.7" y1="268.4" x2="225.7" y2="270.4" stroke="#231f20" stroke-width="1.05"/>
<line x1="224.1" y1="268.4" x2="227.3" y2="268.4" stroke="#231f20" stroke-width="1.05"/>
<line x1="224.1" y1="270.4" x2="227.3" y2="270.4" stroke="#231f20" stroke-width="1.05"/>
<line x1="235.9" y1="269" x2="235.9" y2="271" stroke="#231f20" stroke-width="1.05"/>
<line x1="234.3" y1="269" x2="237.5" y2="269" stroke="#231f20" stroke-width="1.05"/>
<line x1="234.3" y1="271" x2="237.5" y2="271" stroke="#231f20" stroke-width="1.05"/>
<line x1="245.6" y1="219" x2="245.6" y2="233" stroke="#231f20" stroke-width="1.05"/>
<line x1="244" y1="219" x2="247.2" y2="219" stroke="#231f20" stroke-width="1.05"/>
<line x1="244" y1="233" x2="247.2" y2="233" stroke="#231f20" stroke-width="1.05"/>
<line x1="255.7" y1="217.7" x2="255.7" y2="231.7" stroke="#231f20" stroke-width="1.05"/>
<line x1="254.1" y1="217.7" x2="257.3" y2="217.7" stroke="#231f20" stroke-width="1.05"/>
<line x1="254.1" y1="231.7" x2="257.3" y2="231.7" stroke="#231f20" stroke-width="1.05"/>
<line x1="265.4" y1="218.9" x2="265.4" y2="232.9" stroke="#231f20" stroke-width="1.05"/>
<line x1="263.8" y1="218.9" x2="267" y2="218.9" stroke="#231f20" stroke-width="1.05"/>
<line x1="263.8" y1="232.9" x2="267" y2="232.9" stroke="#231f20" stroke-width="1.05"/>
<line x1="275.6" y1="228.8" x2="275.6" y2="241.8" stroke="#231f20" stroke-width="1.05"/>
<line x1="274" y1="228.8" x2="277.2" y2="228.8" stroke="#231f20" stroke-width="1.05"/>
<line x1="274" y1="241.8" x2="277.2" y2="241.8" stroke="#231f20" stroke-width="1.05"/>
<line x1="285.4" y1="229.9" x2="285.4" y2="244.9" stroke="#231f20" stroke-width="1.05"/>
<line x1="283.8" y1="229.9" x2="287" y2="229.9" stroke="#231f20" stroke-width="1.05"/>
<line x1="283.8" y1="244.9" x2="287" y2="244.9" stroke="#231f20" stroke-width="1.05"/>
<line x1="295.4" y1="231.5" x2="295.4" y2="246.5" stroke="#231f20" stroke-width="1.05"/>
<line x1="293.8" y1="231.5" x2="297" y2="231.5" stroke="#231f20" stroke-width="1.05"/>
<line x1="293.8" y1="246.5" x2="297" y2="246.5" stroke="#231f20" stroke-width="1.05"/>
<line x1="305.4" y1="275.2" x2="305.4" y2="277.2" stroke="#231f20" stroke-width="1.05"/>
<line x1="303.8" y1="275.2" x2="307" y2="275.2" stroke="#231f20" stroke-width="1.05"/>
<line x1="303.8" y1="277.2" x2="307" y2="277.2" stroke="#231f20" stroke-width="1.05"/>
<line x1="315.2" y1="272.5" x2="315.2" y2="274.5" stroke="#231f20" stroke-width="1.05"/>
<line x1="313.6" y1="272.5" x2="316.8" y2="272.5" stroke="#231f20" stroke-width="1.05"/>
<line x1="313.6" y1="274.5" x2="316.8" y2="274.5" stroke="#231f20" stroke-width="1.05"/>
<line x1="325" y1="271.7" x2="325" y2="273.7" stroke="#231f20" stroke-width="1.05"/>
<line x1="323.4" y1="271.7" x2="326.6" y2="271.7" stroke="#231f20" stroke-width="1.05"/>
<line x1="323.4" y1="273.7" x2="326.6" y2="273.7" stroke="#231f20" stroke-width="1.05"/>
<line x1="215.9" y1="270.2" x2="215.9" y2="272.2" stroke="#231f20" stroke-width="1.05"/>
<line x1="214.3" y1="270.2" x2="217.5" y2="270.2" stroke="#231f20" stroke-width="1.05"/>
<line x1="214.3" y1="272.2" x2="217.5" y2="272.2" stroke="#231f20" stroke-width="1.05"/>
<line x1="225.7" y1="269.6" x2="225.7" y2="271.6" stroke="#231f20" stroke-width="1.05"/>
<line x1="224.1" y1="269.6" x2="227.3" y2="269.6" stroke="#231f20" stroke-width="1.05"/>
<line x1="224.1" y1="271.6" x2="227.3" y2="271.6" stroke="#231f20" stroke-width="1.05"/>
<line x1="235.9" y1="269.6" x2="235.9" y2="271.6" stroke="#231f20" stroke-width="1.05"/>
<line x1="234.3" y1="269.6" x2="237.5" y2="269.6" stroke="#231f20" stroke-width="1.05"/>
<line x1="234.3" y1="271.6" x2="237.5" y2="271.6" stroke="#231f20" stroke-width="1.05"/>
<line x1="245.6" y1="220.9" x2="245.6" y2="233.9" stroke="#231f20" stroke-width="1.05"/>
<line x1="244" y1="220.9" x2="247.2" y2="220.9" stroke="#231f20" stroke-width="1.05"/>
<line x1="244" y1="233.9" x2="247.2" y2="233.9" stroke="#231f20" stroke-width="1.05"/>
<line x1="255.7" y1="218.2" x2="255.7" y2="231.2" stroke="#231f20" stroke-width="1.05"/>
<line x1="254.1" y1="218.2" x2="257.3" y2="218.2" stroke="#231f20" stroke-width="1.05"/>
<line x1="254.1" y1="231.2" x2="257.3" y2="231.2" stroke="#231f20" stroke-width="1.05"/>
<line x1="265.4" y1="218.6" x2="265.4" y2="231.6" stroke="#231f20" stroke-width="1.05"/>
<line x1="263.8" y1="218.6" x2="267" y2="218.6" stroke="#231f20" stroke-width="1.05"/>
<line x1="263.8" y1="231.6" x2="267" y2="231.6" stroke="#231f20" stroke-width="1.05"/>
<line x1="275.6" y1="230.2" x2="275.6" y2="240.2" stroke="#231f20" stroke-width="1.05"/>
<line x1="274" y1="230.2" x2="277.2" y2="230.2" stroke="#231f20" stroke-width="1.05"/>
<line x1="274" y1="240.2" x2="277.2" y2="240.2" stroke="#231f20" stroke-width="1.05"/>
<line x1="285.4" y1="228.2" x2="285.4" y2="238.2" stroke="#231f20" stroke-width="1.05"/>
<line x1="283.8" y1="228.2" x2="287" y2="228.2" stroke="#231f20" stroke-width="1.05"/>
<line x1="283.8" y1="238.2" x2="287" y2="238.2" stroke="#231f20" stroke-width="1.05"/>
<line x1="295.4" y1="231.5" x2="295.4" y2="241.5" stroke="#231f20" stroke-width="1.05"/>
<line x1="293.8" y1="231.5" x2="297" y2="231.5" stroke="#231f20" stroke-width="1.05"/>
<line x1="293.8" y1="241.5" x2="297" y2="241.5" stroke="#231f20" stroke-width="1.05"/>
<line x1="305.4" y1="275.7" x2="305.4" y2="277.7" stroke="#231f20" stroke-width="1.05"/>
<line x1="303.8" y1="275.7" x2="307" y2="275.7" stroke="#231f20" stroke-width="1.05"/>
<line x1="303.8" y1="277.7" x2="307" y2="277.7" stroke="#231f20" stroke-width="1.05"/>
<line x1="315.2" y1="272.5" x2="315.2" y2="274.5" stroke="#231f20" stroke-width="1.05"/>
<line x1="313.6" y1="272.5" x2="316.8" y2="272.5" stroke="#231f20" stroke-width="1.05"/>
<line x1="313.6" y1="274.5" x2="316.8" y2="274.5" stroke="#231f20" stroke-width="1.05"/>
<line x1="325" y1="271.3" x2="325" y2="273.3" stroke="#231f20" stroke-width="1.05"/>
<line x1="323.4" y1="271.3" x2="326.6" y2="271.3" stroke="#231f20" stroke-width="1.05"/>
<line x1="323.4" y1="273.3" x2="326.6" y2="273.3" stroke="#231f20" stroke-width="1.05"/>
<polyline points="215.9,274.3 225.7,274.3 235.9,273.9 245.6,233.4 255.7,231.3 265.4,235.6 275.6,247 285.4,247.9 295.4,250.4 305.4,282.4 315.2,275.9 325,274.8" fill="none" stroke="#74489a" stroke-width="1.0" stroke-linejoin="round"/>
<circle cx="215.9" cy="274.3" r="1.55" fill="#43125f"/>
<circle cx="225.7" cy="274.3" r="1.55" fill="#43125f"/>
<circle cx="235.9" cy="273.9" r="1.55" fill="#43125f"/>
<circle cx="245.6" cy="233.4" r="1.55" fill="#43125f"/>
<circle cx="255.7" cy="231.3" r="1.55" fill="#43125f"/>
<circle cx="265.4" cy="235.6" r="1.55" fill="#43125f"/>
<circle cx="275.6" cy="247" r="1.55" fill="#43125f"/>
<circle cx="285.4" cy="247.9" r="1.55" fill="#43125f"/>
<circle cx="295.4" cy="250.4" r="1.55" fill="#43125f"/>
<circle cx="305.4" cy="282.4" r="1.55" fill="#43125f"/>
<circle cx="315.2" cy="275.9" r="1.55" fill="#43125f"/>
<circle cx="325" cy="274.8" r="1.55" fill="#43125f"/>
<polyline points="215.9,268.5 225.7,269.4 235.9,270 245.6,226 255.7,224.7 265.4,225.9 275.6,235.3 285.4,237.4 295.4,239 305.4,276.2 315.2,273.5 325,272.7" fill="none" stroke="#b8203f" stroke-width="1.0" stroke-linejoin="round"/>
<circle cx="215.9" cy="268.5" r="1.55" fill="#a3002b"/>
<circle cx="225.7" cy="269.4" r="1.55" fill="#a3002b"/>
<circle cx="235.9" cy="270" r="1.55" fill="#a3002b"/>
<circle cx="245.6" cy="226" r="1.55" fill="#a3002b"/>
<circle cx="255.7" cy="224.7" r="1.55" fill="#a3002b"/>
<circle cx="265.4" cy="225.9" r="1.55" fill="#a3002b"/>
<circle cx="275.6" cy="235.3" r="1.55" fill="#a3002b"/>
<circle cx="285.4" cy="237.4" r="1.55" fill="#a3002b"/>
<circle cx="295.4" cy="239" r="1.55" fill="#a3002b"/>
<circle cx="305.4" cy="276.2" r="1.55" fill="#a3002b"/>
<circle cx="315.2" cy="273.5" r="1.55" fill="#a3002b"/>
<circle cx="325" cy="272.7" r="1.55" fill="#a3002b"/>
<polyline points="215.9,271.2 225.7,270.6 235.9,270.6 245.6,227.4 255.7,224.7 265.4,225.1 275.6,235.2 285.4,233.2 295.4,236.5 305.4,276.7 315.2,273.5 325,272.3" fill="none" stroke="#e4a898" stroke-width="1.0" stroke-linejoin="round"/>
<circle cx="215.9" cy="271.2" r="1.55" fill="#d8907f"/>
<circle cx="225.7" cy="270.6" r="1.55" fill="#d8907f"/>
<circle cx="235.9" cy="270.6" r="1.55" fill="#d8907f"/>
<circle cx="245.6" cy="227.4" r="1.55" fill="#d8907f"/>
<circle cx="255.7" cy="224.7" r="1.55" fill="#d8907f"/>
<circle cx="265.4" cy="225.1" r="1.55" fill="#d8907f"/>
<circle cx="275.6" cy="235.2" r="1.55" fill="#d8907f"/>
<circle cx="285.4" cy="233.2" r="1.55" fill="#d8907f"/>
<circle cx="295.4" cy="236.5" r="1.55" fill="#d8907f"/>
<circle cx="305.4" cy="276.7" r="1.55" fill="#d8907f"/>
<circle cx="315.2" cy="273.5" r="1.55" fill="#d8907f"/>
<circle cx="325" cy="272.3" r="1.55" fill="#d8907f"/>
<line x1="214.8" y1="198.9" x2="214.8" y2="284.5" stroke="#231f20" stroke-width="1.3"/>
<line x1="214.3" y1="284" x2="339.7" y2="284" stroke="#231f20" stroke-width="1.3"/>
<line x1="212" y1="278.2" x2="214.8" y2="278.2" stroke="#231f20" stroke-width="1.1"/>
<text x="209" y="280.6" font-size="6.7" text-anchor="end" fill="#231f20" stroke="#231f20" stroke-width="0.17">0</text>
<line x1="212" y1="262.94" x2="214.8" y2="262.94" stroke="#231f20" stroke-width="1.1"/>
<text x="209" y="265.34" font-size="6.7" text-anchor="end" fill="#231f20" stroke="#231f20" stroke-width="0.17">25</text>
<line x1="212" y1="247.68" x2="214.8" y2="247.68" stroke="#231f20" stroke-width="1.1"/>
<text x="209" y="250.08" font-size="6.7" text-anchor="end" fill="#231f20" stroke="#231f20" stroke-width="0.17">50</text>
<line x1="212" y1="232.42" x2="214.8" y2="232.42" stroke="#231f20" stroke-width="1.1"/>
<text x="209" y="234.82" font-size="6.7" text-anchor="end" fill="#231f20" stroke="#231f20" stroke-width="0.17">75</text>
<line x1="212" y1="217.16" x2="214.8" y2="217.16" stroke="#231f20" stroke-width="1.1"/>
<text x="209" y="219.56" font-size="6.7" text-anchor="end" fill="#231f20" stroke="#231f20" stroke-width="0.17">100</text>
<line x1="212" y1="201.9" x2="214.8" y2="201.9" stroke="#231f20" stroke-width="1.1"/>
<text x="209" y="204.3" font-size="6.7" text-anchor="end" fill="#231f20" stroke="#231f20" stroke-width="0.17">125</text>
<line x1="214.9" y1="284" x2="214.9" y2="287" stroke="#231f20" stroke-width="1.1"/>
<text x="214.9" y="295.9" font-size="6.7" text-anchor="middle" fill="#231f20" stroke="#231f20" stroke-width="0.17">0</text>
<line x1="235.2" y1="284" x2="235.2" y2="287" stroke="#231f20" stroke-width="1.1"/>
<text x="235.2" y="295.9" font-size="6.7" text-anchor="middle" fill="#231f20" stroke="#231f20" stroke-width="0.17">20</text>
<line x1="255.5" y1="284" x2="255.5" y2="287" stroke="#231f20" stroke-width="1.1"/>
<text x="255.5" y="295.9" font-size="6.7" text-anchor="middle" fill="#231f20" stroke="#231f20" stroke-width="0.17">40</text>
<line x1="275.8" y1="284" x2="275.8" y2="287" stroke="#231f20" stroke-width="1.1"/>
<text x="275.8" y="295.9" font-size="6.7" text-anchor="middle" fill="#231f20" stroke="#231f20" stroke-width="0.17">60</text>
<line x1="296.1" y1="284" x2="296.1" y2="287" stroke="#231f20" stroke-width="1.1"/>
<text x="296.1" y="295.9" font-size="6.7" text-anchor="middle" fill="#231f20" stroke="#231f20" stroke-width="0.17">80</text>
<line x1="316.4" y1="284" x2="316.4" y2="287" stroke="#231f20" stroke-width="1.1"/>
<text x="316.4" y="295.9" font-size="6.7" text-anchor="middle" fill="#231f20" stroke="#231f20" stroke-width="0.17">100</text>
<line x1="336.7" y1="284" x2="336.7" y2="287" stroke="#231f20" stroke-width="1.1"/>
<text x="336.7" y="295.9" font-size="6.7" text-anchor="middle" fill="#231f20" stroke="#231f20" stroke-width="0.17">120</text>
<text x="277.5" y="307.5" font-size="8.5" text-anchor="middle" fill="#231f20" stroke="#231f20" stroke-width="0.2" textLength="44" lengthAdjust="spacingAndGlyphs">Time (minutes)</text>
<text x="193" y="240.5" font-size="9.2" text-anchor="middle" fill="#231f20" stroke="#231f20" stroke-width="0.2" textLength="78" lengthAdjust="spacingAndGlyphs" transform="rotate(-90 193 240.5)">ECAR (mpH/min/10<tspan font-size="5.6" dy="-2.9">5</tspan><tspan dy="2.9"> cells)</tspan></text>
<text x="266.9" y="183.8" font-size="8.2" fill="#231f20" stroke="#231f20" stroke-width="0.2" textLength="36" lengthAdjust="spacingAndGlyphs">Glycolytic</text>
<text x="265.4" y="193.5" font-size="8.2" fill="#231f20" stroke="#231f20" stroke-width="0.2" textLength="40" lengthAdjust="spacingAndGlyphs">Stress Test</text>
<line x1="214.8" y1="175.3" x2="223.7" y2="175.3" stroke="#74489a" stroke-width="1.0"/>
<circle cx="219.3" cy="175.3" r="1.5" fill="#43125f"/>
<text x="226.4" y="177.21" font-size="5.3" fill="#231f20" stroke="#231f20" stroke-width="0.13" textLength="17.1" lengthAdjust="spacingAndGlyphs">Vehicle</text>
<line x1="214.8" y1="184.2" x2="223.7" y2="184.2" stroke="#e4a898" stroke-width="1.0"/>
<circle cx="219.3" cy="184.2" r="1.5" fill="#d8907f"/>
<text x="226.4" y="186.11" font-size="5.3" fill="#231f20" stroke="#231f20" stroke-width="0.13" textLength="14" lengthAdjust="spacingAndGlyphs">10µM</text>
<line x1="214.8" y1="193" x2="223.7" y2="193" stroke="#b8203f" stroke-width="1.0"/>
<circle cx="219.3" cy="193" r="1.5" fill="#a3002b"/>
<text x="226.4" y="194.91" font-size="5.3" fill="#231f20" stroke="#231f20" stroke-width="0.13" textLength="14" lengthAdjust="spacingAndGlyphs">50µM</text>
<rect x="379.1" y="201.2" width="53.4" height="83.5" fill="#dfeaf6"/>
<rect x="381.9" y="236" width="11.7" height="49.2" fill="#53245f"/>
<line x1="387.75" y1="233.9" x2="387.75" y2="237" stroke="#231f20" stroke-width="1.0"/>
<line x1="385.55" y1="233.9" x2="389.95" y2="233.9" stroke="#231f20" stroke-width="1.0"/>
<rect x="400" y="230.3" width="11.9" height="54.9" fill="#cf8c7c"/>
<line x1="405.95" y1="226.4" x2="405.95" y2="231.3" stroke="#231f20" stroke-width="1.0"/>
<line x1="403.75" y1="226.4" x2="408.15" y2="226.4" stroke="#231f20" stroke-width="1.0"/>
<rect x="418.1" y="231" width="11.9" height="54.2" fill="#a3002b"/>
<line x1="424.05" y1="223.3" x2="424.05" y2="232" stroke="#231f20" stroke-width="1.0"/>
<line x1="421.85" y1="223.3" x2="426.25" y2="223.3" stroke="#231f20" stroke-width="1.0"/>
<line x1="378.5" y1="200" x2="378.5" y2="285.7" stroke="#231f20" stroke-width="1.3"/>
<line x1="378" y1="285.2" x2="432.9" y2="285.2" stroke="#231f20" stroke-width="1.3"/>
<line x1="375.7" y1="285.2" x2="378.5" y2="285.2" stroke="#231f20" stroke-width="1.1"/>
<text x="372.7" y="287.6" font-size="6.7" text-anchor="end" fill="#231f20" stroke="#231f20" stroke-width="0.17">0</text>
<line x1="375.7" y1="271.47" x2="378.5" y2="271.47" stroke="#231f20" stroke-width="1.1"/>
<text x="372.7" y="273.87" font-size="6.7" text-anchor="end" fill="#231f20" stroke="#231f20" stroke-width="0.17">20</text>
<line x1="375.7" y1="257.73" x2="378.5" y2="257.73" stroke="#231f20" stroke-width="1.1"/>
<text x="372.7" y="260.13" font-size="6.7" text-anchor="end" fill="#231f20" stroke="#231f20" stroke-width="0.17">40</text>
<line x1="375.7" y1="244" x2="378.5" y2="244" stroke="#231f20" stroke-width="1.1"/>
<text x="372.7" y="246.4" font-size="6.7" text-anchor="end" fill="#231f20" stroke="#231f20" stroke-width="0.17">60</text>
<line x1="375.7" y1="230.27" x2="378.5" y2="230.27" stroke="#231f20" stroke-width="1.1"/>
<text x="372.7" y="232.67" font-size="6.7" text-anchor="end" fill="#231f20" stroke="#231f20" stroke-width="0.17">80</text>
<line x1="375.7" y1="216.53" x2="378.5" y2="216.53" stroke="#231f20" stroke-width="1.1"/>
<text x="372.7" y="218.93" font-size="6.7" text-anchor="end" fill="#231f20" stroke="#231f20" stroke-width="0.17">100</text>
<line x1="375.7" y1="202.8" x2="378.5" y2="202.8" stroke="#231f20" stroke-width="1.1"/>
<text x="372.7" y="205.2" font-size="6.7" text-anchor="end" fill="#231f20" stroke="#231f20" stroke-width="0.17">120</text>
<line x1="387.4" y1="285.2" x2="387.4" y2="288.2" stroke="#231f20" stroke-width="1.1"/>
<text x="387.4" y="297.2" font-size="6.7" text-anchor="middle" fill="#231f20" stroke="#231f20" stroke-width="0.17">0</text>
<line x1="406" y1="285.2" x2="406" y2="288.2" stroke="#231f20" stroke-width="1.1"/>
<text x="406" y="297.2" font-size="6.7" text-anchor="middle" fill="#231f20" stroke="#231f20" stroke-width="0.17">10</text>
<line x1="424" y1="285.2" x2="424" y2="288.2" stroke="#231f20" stroke-width="1.1"/>
<text x="424" y="297.2" font-size="6.7" text-anchor="middle" fill="#231f20" stroke="#231f20" stroke-width="0.17">50</text>
<line x1="387.4" y1="213.7" x2="423.9" y2="213.7" stroke="#3a3a3a" stroke-width="1.2"/>
<line x1="387.6" y1="224.1" x2="405.6" y2="224.1" stroke="#3a3a3a" stroke-width="1.2"/>
<text x="405.4" y="210.1" font-size="5.5" text-anchor="middle" fill="#231f20" stroke="#231f20" stroke-width="0.14" textLength="23.1" lengthAdjust="spacingAndGlyphs">p=0.0557</text>
<text x="397" y="219.7" font-size="5.5" text-anchor="middle" fill="#231f20" stroke="#231f20" stroke-width="0.14" textLength="23.4" lengthAdjust="spacingAndGlyphs">p=0.0636</text>
<text x="406" y="184.4" font-size="8.2" text-anchor="middle" fill="#231f20" stroke="#231f20" stroke-width="0.2" textLength="19.2" lengthAdjust="spacingAndGlyphs">Basal</text>
<text x="405.7" y="194.2" font-size="8.2" text-anchor="middle" fill="#231f20" stroke="#231f20" stroke-width="0.2" textLength="36.7" lengthAdjust="spacingAndGlyphs">Glycolysis</text>
<text x="406" y="308.5" font-size="8.5" text-anchor="middle" fill="#231f20" stroke="#231f20" stroke-width="0.2" textLength="37" lengthAdjust="spacingAndGlyphs">[Heme], µM</text>
<text x="357.2" y="242" font-size="9.2" text-anchor="middle" fill="#231f20" stroke="#231f20" stroke-width="0.2" textLength="79" lengthAdjust="spacingAndGlyphs" transform="rotate(-90 357.2 242)">ECAR (mpH/min/10<tspan font-size="5.6" dy="-2.9">5</tspan><tspan dy="2.9"> cells)</tspan></text>
<rect x="454.2" y="201.4" width="53.7" height="82.7" fill="#e2edd9"/>
<rect x="456.1" y="251.9" width="12" height="32.7" fill="#53245f"/>
<line x1="462.1" y1="249.6" x2="462.1" y2="252.9" stroke="#231f20" stroke-width="1.0"/>
<line x1="459.9" y1="249.6" x2="464.3" y2="249.6" stroke="#231f20" stroke-width="1.0"/>
<rect x="474.6" y="236.7" width="12.1" height="47.9" fill="#cf8c7c"/>
<line x1="480.65" y1="232.1" x2="480.65" y2="237.7" stroke="#231f20" stroke-width="1.0"/>
<line x1="478.45" y1="232.1" x2="482.85" y2="232.1" stroke="#231f20" stroke-width="1.0"/>
<rect x="492.9" y="239.3" width="12.1" height="45.3" fill="#a3002b"/>
<line x1="498.95" y1="231.1" x2="498.95" y2="240.3" stroke="#231f20" stroke-width="1.0"/>
<line x1="496.75" y1="231.1" x2="501.15" y2="231.1" stroke="#231f20" stroke-width="1.0"/>
<line x1="453.6" y1="200" x2="453.6" y2="285.1" stroke="#231f20" stroke-width="1.3"/>
<line x1="453.1" y1="284.6" x2="507.9" y2="284.6" stroke="#231f20" stroke-width="1.3"/>
<line x1="450.8" y1="284.6" x2="453.6" y2="284.6" stroke="#231f20" stroke-width="1.1"/>
<text x="447.8" y="287" font-size="6.7" text-anchor="end" fill="#231f20" stroke="#231f20" stroke-width="0.17">0</text>
<line x1="450.8" y1="270.98" x2="453.6" y2="270.98" stroke="#231f20" stroke-width="1.1"/>
<text x="447.8" y="273.38" font-size="6.7" text-anchor="end" fill="#231f20" stroke="#231f20" stroke-width="0.17">20</text>
<line x1="450.8" y1="257.37" x2="453.6" y2="257.37" stroke="#231f20" stroke-width="1.1"/>
<text x="447.8" y="259.77" font-size="6.7" text-anchor="end" fill="#231f20" stroke="#231f20" stroke-width="0.17">40</text>
<line x1="450.8" y1="243.75" x2="453.6" y2="243.75" stroke="#231f20" stroke-width="1.1"/>
<text x="447.8" y="246.15" font-size="6.7" text-anchor="end" fill="#231f20" stroke="#231f20" stroke-width="0.17">60</text>
<line x1="450.8" y1="230.13" x2="453.6" y2="230.13" stroke="#231f20" stroke-width="1.1"/>
<text x="447.8" y="232.53" font-size="6.7" text-anchor="end" fill="#231f20" stroke="#231f20" stroke-width="0.17">80</text>
<line x1="450.8" y1="216.52" x2="453.6" y2="216.52" stroke="#231f20" stroke-width="1.1"/>
<text x="447.8" y="218.92" font-size="6.7" text-anchor="end" fill="#231f20" stroke="#231f20" stroke-width="0.17">100</text>
<line x1="450.8" y1="202.9" x2="453.6" y2="202.9" stroke="#231f20" stroke-width="1.1"/>
<text x="447.8" y="205.3" font-size="6.7" text-anchor="end" fill="#231f20" stroke="#231f20" stroke-width="0.17">120</text>
<line x1="462.1" y1="284.6" x2="462.1" y2="287.6" stroke="#231f20" stroke-width="1.1"/>
<text x="462.1" y="296.6" font-size="6.7" text-anchor="middle" fill="#231f20" stroke="#231f20" stroke-width="0.17">0</text>
<line x1="480.4" y1="284.6" x2="480.4" y2="287.6" stroke="#231f20" stroke-width="1.1"/>
<text x="480.4" y="296.6" font-size="6.7" text-anchor="middle" fill="#231f20" stroke="#231f20" stroke-width="0.17">10</text>
<line x1="498.9" y1="284.6" x2="498.9" y2="287.6" stroke="#231f20" stroke-width="1.1"/>
<text x="498.9" y="296.6" font-size="6.7" text-anchor="middle" fill="#231f20" stroke="#231f20" stroke-width="0.17">50</text>
<line x1="462.1" y1="222.1" x2="498.6" y2="222.1" stroke="#3a3a3a" stroke-width="1.2"/>
<ellipse cx="480" cy="219.3" rx="0.75" ry="0.95" fill="#333"/>
<line x1="462.1" y1="230.3" x2="479.3" y2="230.3" stroke="#3a3a3a" stroke-width="1.2"/>
<ellipse cx="469.8" cy="227.6" rx="0.75" ry="0.95" fill="#333"/>
<ellipse cx="472.2" cy="227.6" rx="0.75" ry="0.95" fill="#333"/>
<text x="480.7" y="185.2" font-size="8.2" text-anchor="middle" fill="#231f20" stroke="#231f20" stroke-width="0.2" textLength="37.2" lengthAdjust="spacingAndGlyphs">Glycolytic</text>
<text x="480.5" y="194.4" font-size="8.2" text-anchor="middle" fill="#231f20" stroke="#231f20" stroke-width="0.2" textLength="33.1" lengthAdjust="spacingAndGlyphs">Capacity</text>
<text x="480.5" y="307.5" font-size="8.5" text-anchor="middle" fill="#231f20" stroke="#231f20" stroke-width="0.2" textLength="37" lengthAdjust="spacingAndGlyphs">[Heme], µM</text>
<text x="89.4" y="349.3" font-size="8.2" text-anchor="middle" fill="#231f20" stroke="#231f20" stroke-width="0.2" textLength="62" lengthAdjust="spacingAndGlyphs">Bioenergetics of</text>
<text x="89.3" y="359.5" font-size="8.2" text-anchor="middle" fill="#231f20" stroke="#231f20" stroke-width="0.2" textLength="55.2" lengthAdjust="spacingAndGlyphs">Heme Loading</text>
<rect x="48.4" y="365.2" width="81.9" height="82.1" fill="none" stroke="#231f20" stroke-width="1.1"/>
<line x1="45.6" y1="447.3" x2="48.4" y2="447.3" stroke="#231f20" stroke-width="1.1"/>
<text x="42.6" y="449.7" font-size="6.7" text-anchor="end" fill="#231f20" stroke="#231f20" stroke-width="0.17">0</text>
<line x1="45.6" y1="426.77" x2="48.4" y2="426.77" stroke="#231f20" stroke-width="1.1"/>
<text x="42.6" y="429.17" font-size="6.7" text-anchor="end" fill="#231f20" stroke="#231f20" stroke-width="0.17">100</text>
<line x1="45.6" y1="406.25" x2="48.4" y2="406.25" stroke="#231f20" stroke-width="1.1"/>
<text x="42.6" y="408.65" font-size="6.7" text-anchor="end" fill="#231f20" stroke="#231f20" stroke-width="0.17">200</text>
<line x1="45.6" y1="385.73" x2="48.4" y2="385.73" stroke="#231f20" stroke-width="1.1"/>
<text x="42.6" y="388.12" font-size="6.7" text-anchor="end" fill="#231f20" stroke="#231f20" stroke-width="0.17">300</text>
<line x1="45.6" y1="365.2" x2="48.4" y2="365.2" stroke="#231f20" stroke-width="1.1"/>
<text x="42.6" y="367.6" font-size="6.7" text-anchor="end" fill="#231f20" stroke="#231f20" stroke-width="0.17">400</text>
<line x1="48.4" y1="447.3" x2="48.4" y2="450.3" stroke="#231f20" stroke-width="1.1"/>
<text x="48.4" y="459.3" font-size="6.7" text-anchor="middle" fill="#231f20" stroke="#231f20" stroke-width="0.17">0</text>
<line x1="64.78" y1="447.3" x2="64.78" y2="450.3" stroke="#231f20" stroke-width="1.1"/>
<text x="64.78" y="459.3" font-size="6.7" text-anchor="middle" fill="#231f20" stroke="#231f20" stroke-width="0.17">25</text>
<line x1="81.16" y1="447.3" x2="81.16" y2="450.3" stroke="#231f20" stroke-width="1.1"/>
<text x="81.16" y="459.3" font-size="6.7" text-anchor="middle" fill="#231f20" stroke="#231f20" stroke-width="0.17">50</text>
<line x1="97.54" y1="447.3" x2="97.54" y2="450.3" stroke="#231f20" stroke-width="1.1"/>
<text x="97.54" y="459.3" font-size="6.7" text-anchor="middle" fill="#231f20" stroke="#231f20" stroke-width="0.17">75</text>
<line x1="113.92" y1="447.3" x2="113.92" y2="450.3" stroke="#231f20" stroke-width="1.1"/>
<text x="113.92" y="459.3" font-size="6.7" text-anchor="middle" fill="#231f20" stroke="#231f20" stroke-width="0.17">100</text>
<line x1="130.3" y1="447.3" x2="130.3" y2="450.3" stroke="#231f20" stroke-width="1.1"/>
<text x="130.3" y="459.3" font-size="6.7" text-anchor="middle" fill="#231f20" stroke="#231f20" stroke-width="0.17">125</text>
<text x="89.3" y="470.4" font-size="9.0" text-anchor="middle" fill="#231f20" stroke="#231f20" stroke-width="0.2" textLength="54.6" lengthAdjust="spacingAndGlyphs">Glycolytic Capacity</text>
<text x="89.6" y="480.4" font-size="9.0" text-anchor="middle" fill="#231f20" stroke="#231f20" stroke-width="0.2" textLength="47" lengthAdjust="spacingAndGlyphs">(Stressed ECAR)</text>
<text x="16" y="406.4" font-size="9.2" text-anchor="middle" fill="#231f20" stroke="#231f20" stroke-width="0.2" textLength="58" lengthAdjust="spacingAndGlyphs" transform="rotate(-90 16 406.4)">Respiratory capacity</text>
<text x="26.6" y="405.4" font-size="9.2" text-anchor="middle" fill="#231f20" stroke="#231f20" stroke-width="0.2" textLength="52" lengthAdjust="spacingAndGlyphs" transform="rotate(-90 26.6 405.4)">(maximum OCR)</text>
<text x="50.4" y="372.06" font-size="4.9" fill="#231f20" stroke="#231f20" stroke-width="0.12" textLength="18.2" lengthAdjust="spacingAndGlyphs">Aerobic</text>
<text x="127.9" y="372.16" font-size="4.9" text-anchor="end" fill="#231f20" stroke="#231f20" stroke-width="0.12" textLength="22.5" lengthAdjust="spacingAndGlyphs">Energetic</text>
<text x="50.4" y="382.06" font-size="4.9" fill="#9a9a9a" stroke="#9a9a9a" stroke-width="0.12" textLength="7" lengthAdjust="spacingAndGlyphs">M2</text>
<text x="50.7" y="435.76" font-size="4.9" fill="#9a9a9a" stroke="#9a9a9a" stroke-width="0.12" textLength="9" lengthAdjust="spacingAndGlyphs">Mox</text>
<text x="127.8" y="435.96" font-size="4.9" text-anchor="end" fill="#9a9a9a" stroke="#9a9a9a" stroke-width="0.12" textLength="7" lengthAdjust="spacingAndGlyphs">M1</text>
<text x="50.7" y="444.66" font-size="4.9" fill="#231f20" stroke="#231f20" stroke-width="0.12" textLength="23.5" lengthAdjust="spacingAndGlyphs">Quiescent</text>
<text x="128.2" y="444.86" font-size="4.9" text-anchor="end" fill="#231f20" stroke="#231f20" stroke-width="0.12" textLength="22.8" lengthAdjust="spacingAndGlyphs">Glycolytic</text>
<text x="78.5" y="383.86" font-size="4.9" text-anchor="middle" fill="#231f20" stroke="#231f20" stroke-width="0.12" textLength="16.9" lengthAdjust="spacingAndGlyphs">Vehicle</text>
<text x="80.3" y="428.56" font-size="4.9" text-anchor="middle" fill="#cf8c7c" stroke="#cf8c7c" stroke-width="0.12" textLength="12.7" lengthAdjust="spacingAndGlyphs">10µM</text>
<text x="76.5" y="437.86" font-size="4.9" text-anchor="middle" fill="#a3002b" stroke="#a3002b" stroke-width="0.12" textLength="13.5" lengthAdjust="spacingAndGlyphs">50µM</text>
<line x1="79.7" y1="386.1" x2="79.7" y2="397.3" stroke="#8a68a8" stroke-width="1.0"/>
<line x1="78.2" y1="386.1" x2="81.2" y2="386.1" stroke="#8a68a8" stroke-width="1.0"/>
<line x1="78.2" y1="397.3" x2="81.2" y2="397.3" stroke="#8a68a8" stroke-width="1.0"/>
<rect x="78.1" y="390.1" width="3.2" height="3.2" fill="#4a1a60"/>
<line x1="94.3" y1="424.8" x2="94.3" y2="428.8" stroke="#cf8c7c" stroke-width="1.0"/>
<line x1="92.8" y1="424.8" x2="95.8" y2="424.8" stroke="#cf8c7c" stroke-width="1.0"/>
<line x1="92.8" y1="428.8" x2="95.8" y2="428.8" stroke="#cf8c7c" stroke-width="1.0"/>
<line x1="90.6" y1="426.8" x2="98" y2="426.8" stroke="#cf8c7c" stroke-width="1.0"/>
<line x1="90.6" y1="425.4" x2="90.6" y2="428.2" stroke="#cf8c7c" stroke-width="1.0"/>
<line x1="98" y1="425.4" x2="98" y2="428.2" stroke="#cf8c7c" stroke-width="1.0"/>
<rect x="93" y="425.5" width="2.6" height="2.6" fill="#cf8c7c"/>
<line x1="92.2" y1="437.1" x2="92.2" y2="442.3" stroke="#a3002b" stroke-width="1.0"/>
<line x1="90.7" y1="437.1" x2="93.7" y2="437.1" stroke="#a3002b" stroke-width="1.0"/>
<line x1="90.7" y1="442.3" x2="93.7" y2="442.3" stroke="#a3002b" stroke-width="1.0"/>
<line x1="84.6" y1="439.7" x2="99.8" y2="439.7" stroke="#a3002b" stroke-width="1.0"/>
<line x1="84.6" y1="438.3" x2="84.6" y2="441.1" stroke="#a3002b" stroke-width="1.0"/>
<line x1="99.8" y1="438.3" x2="99.8" y2="441.1" stroke="#a3002b" stroke-width="1.0"/>
<rect x="90.7" y="438.2" width="3" height="3" fill="#a3002b"/>
<line x1="82.4" y1="399.3" x2="90" y2="416.5" stroke="#a3002b" stroke-width="1.2" stroke-dasharray="2.8 1.7"/>
<path d="M88.0,416.0 L92.0,421.2 L92.6,414.6 Z" fill="#a3002b"/>
<text x="243.2" y="359.7" font-size="8.2" text-anchor="middle" fill="#231f20" stroke="#231f20" stroke-width="0.2" textLength="83" lengthAdjust="spacingAndGlyphs">Intracellular ATP Level</text>
<line x1="180.1" y1="366.3" x2="180.1" y2="372.3" stroke="#231f20" stroke-width="1.0"/>
<line x1="178.6" y1="366.3" x2="181.6" y2="366.3" stroke="#231f20" stroke-width="1.0"/>
<line x1="178.6" y1="372.3" x2="181.6" y2="372.3" stroke="#231f20" stroke-width="1.0"/>
<line x1="210.95" y1="366.7" x2="210.95" y2="371.9" stroke="#231f20" stroke-width="1.0"/>
<line x1="209.45" y1="366.7" x2="212.45" y2="366.7" stroke="#231f20" stroke-width="1.0"/>
<line x1="209.45" y1="371.9" x2="212.45" y2="371.9" stroke="#231f20" stroke-width="1.0"/>
<line x1="241.8" y1="365.3" x2="241.8" y2="373.3" stroke="#231f20" stroke-width="1.0"/>
<line x1="240.3" y1="365.3" x2="243.3" y2="365.3" stroke="#231f20" stroke-width="1.0"/>
<line x1="240.3" y1="373.3" x2="243.3" y2="373.3" stroke="#231f20" stroke-width="1.0"/>
<line x1="272.65" y1="367.1" x2="272.65" y2="371.5" stroke="#231f20" stroke-width="1.0"/>
<line x1="271.15" y1="367.1" x2="274.15" y2="367.1" stroke="#231f20" stroke-width="1.0"/>
<line x1="271.15" y1="371.5" x2="274.15" y2="371.5" stroke="#231f20" stroke-width="1.0"/>
<line x1="210.95" y1="407.2" x2="210.95" y2="413.4" stroke="#231f20" stroke-width="1.0"/>
<line x1="209.45" y1="407.2" x2="212.45" y2="407.2" stroke="#231f20" stroke-width="1.0"/>
<line x1="209.45" y1="413.4" x2="212.45" y2="413.4" stroke="#231f20" stroke-width="1.0"/>
<line x1="241.8" y1="402.5" x2="241.8" y2="404.9" stroke="#231f20" stroke-width="1.0"/>
<line x1="240.3" y1="402.5" x2="243.3" y2="402.5" stroke="#231f20" stroke-width="1.0"/>
<line x1="240.3" y1="404.9" x2="243.3" y2="404.9" stroke="#231f20" stroke-width="1.0"/>
<line x1="272.65" y1="402.5" x2="272.65" y2="407.7" stroke="#231f20" stroke-width="1.0"/>
<line x1="271.15" y1="402.5" x2="274.15" y2="402.5" stroke="#231f20" stroke-width="1.0"/>
<line x1="271.15" y1="407.7" x2="274.15" y2="407.7" stroke="#231f20" stroke-width="1.0"/>
<polyline points="180.1,369.3 210.95,410.3 241.8,403.7 272.65,405.1 303.5,407.6" fill="none" stroke="#b8203f" stroke-width="1.1" stroke-linejoin="round"/>
<polyline points="180.1,369.3 210.95,382.4 241.8,379 272.65,380.3 303.5,377.4" fill="none" stroke="#e4a898" stroke-width="1.1" stroke-linejoin="round"/>
<polyline points="180.1,369.3 210.95,369.3 241.8,369.3 272.65,369.3 303.5,369.3" fill="none" stroke="#74489a" stroke-width="1.1" stroke-linejoin="round"/>
<circle cx="180.1" cy="369.3" r="1.6" fill="#a3002b"/>
<circle cx="210.95" cy="410.3" r="1.6" fill="#a3002b"/>
<circle cx="241.8" cy="403.7" r="1.6" fill="#a3002b"/>
<circle cx="272.65" cy="405.1" r="1.6" fill="#a3002b"/>
<circle cx="303.5" cy="407.6" r="1.6" fill="#a3002b"/>
<circle cx="180.1" cy="369.3" r="1.6" fill="#d8907f"/>
<circle cx="210.95" cy="382.4" r="1.6" fill="#d8907f"/>
<circle cx="241.8" cy="379" r="1.6" fill="#d8907f"/>
<circle cx="272.65" cy="380.3" r="1.6" fill="#d8907f"/>
<circle cx="303.5" cy="377.4" r="1.6" fill="#d8907f"/>
<circle cx="180.1" cy="369.3" r="1.6" fill="#43125f"/>
<circle cx="210.95" cy="369.3" r="1.6" fill="#43125f"/>
<circle cx="241.8" cy="369.3" r="1.6" fill="#43125f"/>
<circle cx="272.65" cy="369.3" r="1.6" fill="#43125f"/>
<circle cx="303.5" cy="369.3" r="1.6" fill="#43125f"/>
<line x1="180.1" y1="366" x2="180.1" y2="447.8" stroke="#231f20" stroke-width="1.3"/>
<line x1="179.6" y1="447.3" x2="306.2" y2="447.3" stroke="#231f20" stroke-width="1.3"/>
<line x1="177.3" y1="447.1" x2="180.1" y2="447.1" stroke="#231f20" stroke-width="1.1"/>
<text x="174.3" y="449.5" font-size="6.7" text-anchor="end" fill="#231f20" stroke="#231f20" stroke-width="0.17">0</text>
<line x1="177.3" y1="427.65" x2="180.1" y2="427.65" stroke="#231f20" stroke-width="1.1"/>
<text x="174.3" y="430.05" font-size="6.7" text-anchor="end" fill="#231f20" stroke="#231f20" stroke-width="0.17">25</text>
<line x1="177.3" y1="408.2" x2="180.1" y2="408.2" stroke="#231f20" stroke-width="1.1"/>
<text x="174.3" y="410.6" font-size="6.7" text-anchor="end" fill="#231f20" stroke="#231f20" stroke-width="0.17">50</text>
<line x1="177.3" y1="388.75" x2="180.1" y2="388.75" stroke="#231f20" stroke-width="1.1"/>
<text x="174.3" y="391.15" font-size="6.7" text-anchor="end" fill="#231f20" stroke="#231f20" stroke-width="0.17">75</text>
<line x1="177.3" y1="369.3" x2="180.1" y2="369.3" stroke="#231f20" stroke-width="1.1"/>
<text x="174.3" y="371.7" font-size="6.7" text-anchor="end" fill="#231f20" stroke="#231f20" stroke-width="0.17">100</text>
<line x1="180.1" y1="447.3" x2="180.1" y2="450.3" stroke="#231f20" stroke-width="1.1"/>
<text x="180.1" y="459.3" font-size="6.7" text-anchor="middle" fill="#231f20" stroke="#231f20" stroke-width="0.17">0</text>
<line x1="210.95" y1="447.3" x2="210.95" y2="450.3" stroke="#231f20" stroke-width="1.1"/>
<text x="210.95" y="459.3" font-size="6.7" text-anchor="middle" fill="#231f20" stroke="#231f20" stroke-width="0.17">2</text>
<line x1="241.8" y1="447.3" x2="241.8" y2="450.3" stroke="#231f20" stroke-width="1.1"/>
<text x="241.8" y="459.3" font-size="6.7" text-anchor="middle" fill="#231f20" stroke="#231f20" stroke-width="0.17">4</text>
<line x1="272.65" y1="447.3" x2="272.65" y2="450.3" stroke="#231f20" stroke-width="1.1"/>
<text x="272.65" y="459.3" font-size="6.7" text-anchor="middle" fill="#231f20" stroke="#231f20" stroke-width="0.17">6</text>
<line x1="303.5" y1="447.3" x2="303.5" y2="450.3" stroke="#231f20" stroke-width="1.1"/>
<text x="303.5" y="459.3" font-size="6.7" text-anchor="middle" fill="#231f20" stroke="#231f20" stroke-width="0.17">8</text>
<text x="243.8" y="470.6" font-size="8.5" text-anchor="middle" fill="#231f20" stroke="#231f20" stroke-width="0.2" textLength="37.1" lengthAdjust="spacingAndGlyphs">Time (hours)</text>
<text x="158.4" y="406.2" font-size="9.2" text-anchor="middle" fill="#231f20" stroke="#231f20" stroke-width="0.2" textLength="69" lengthAdjust="spacingAndGlyphs" transform="rotate(-90 158.4 406.2)">ATP content (% vehicle)</text>
<ellipse cx="208.55" cy="390.3" rx="0.75" ry="0.95" fill="#333"/>
<ellipse cx="210.95" cy="390.3" rx="0.75" ry="0.95" fill="#333"/>
<ellipse cx="213.35" cy="390.3" rx="0.75" ry="0.95" fill="#333"/>
<ellipse cx="240.6" cy="384.9" rx="0.75" ry="0.95" fill="#333"/>
<ellipse cx="243" cy="384.9" rx="0.75" ry="0.95" fill="#333"/>
<ellipse cx="270.25" cy="387.2" rx="0.75" ry="0.95" fill="#333"/>
<ellipse cx="272.65" cy="387.2" rx="0.75" ry="0.95" fill="#333"/>
<ellipse cx="275.05" cy="387.2" rx="0.75" ry="0.95" fill="#333"/>
<ellipse cx="301.1" cy="384.4" rx="0.75" ry="0.95" fill="#333"/>
<ellipse cx="303.5" cy="384.4" rx="0.75" ry="0.95" fill="#333"/>
<ellipse cx="305.9" cy="384.4" rx="0.75" ry="0.95" fill="#333"/>
<ellipse cx="208.55" cy="418.6" rx="0.75" ry="0.95" fill="#333"/>
<ellipse cx="210.95" cy="418.6" rx="0.75" ry="0.95" fill="#333"/>
<ellipse cx="213.35" cy="418.6" rx="0.75" ry="0.95" fill="#333"/>
<ellipse cx="239.4" cy="411.7" rx="0.75" ry="0.95" fill="#333"/>
<ellipse cx="241.8" cy="411.7" rx="0.75" ry="0.95" fill="#333"/>
<ellipse cx="244.2" cy="411.7" rx="0.75" ry="0.95" fill="#333"/>
<ellipse cx="270.25" cy="413" rx="0.75" ry="0.95" fill="#333"/>
<ellipse cx="272.65" cy="413" rx="0.75" ry="0.95" fill="#333"/>
<ellipse cx="275.05" cy="413" rx="0.75" ry="0.95" fill="#333"/>
<ellipse cx="301.1" cy="414.6" rx="0.75" ry="0.95" fill="#333"/>
<ellipse cx="303.5" cy="414.6" rx="0.75" ry="0.95" fill="#333"/>
<ellipse cx="305.9" cy="414.6" rx="0.75" ry="0.95" fill="#333"/>
<line x1="183.3" y1="423.9" x2="191.7" y2="423.9" stroke="#74489a" stroke-width="1.0"/>
<circle cx="187.5" cy="423.9" r="1.5" fill="#43125f"/>
<text x="194.9" y="425.81" font-size="5.3" fill="#231f20" stroke="#231f20" stroke-width="0.13" textLength="16.8" lengthAdjust="spacingAndGlyphs">Vehicle</text>
<line x1="183.3" y1="432.9" x2="191.7" y2="432.9" stroke="#e4a898" stroke-width="1.0"/>
<circle cx="187.5" cy="432.9" r="1.5" fill="#d8907f"/>
<text x="194.9" y="434.81" font-size="5.3" fill="#231f20" stroke="#231f20" stroke-width="0.13" textLength="29.8" lengthAdjust="spacingAndGlyphs">10µM Heme</text>
<line x1="183.3" y1="441.3" x2="191.7" y2="441.3" stroke="#b8203f" stroke-width="1.0"/>
<circle cx="187.5" cy="441.3" r="1.5" fill="#a3002b"/>
<text x="194.9" y="443.21" font-size="5.3" fill="#231f20" stroke="#231f20" stroke-width="0.13" textLength="29.8" lengthAdjust="spacingAndGlyphs">50µM Heme</text>
<text x="424.9" y="361.4" font-size="8.2" text-anchor="middle" fill="#231f20" stroke="#231f20" stroke-width="0.2" textLength="45.8" lengthAdjust="spacingAndGlyphs">Cell Survival</text>
<line x1="361.5" y1="370.3" x2="361.5" y2="377.3" stroke="#231f20" stroke-width="1.0"/>
<line x1="360" y1="370.3" x2="363" y2="370.3" stroke="#231f20" stroke-width="1.0"/>
<line x1="360" y1="377.3" x2="363" y2="377.3" stroke="#231f20" stroke-width="1.0"/>
<line x1="392.48" y1="371.3" x2="392.48" y2="376.3" stroke="#231f20" stroke-width="1.0"/>
<line x1="390.98" y1="371.3" x2="393.98" y2="371.3" stroke="#231f20" stroke-width="1.0"/>
<line x1="390.98" y1="376.3" x2="393.98" y2="376.3" stroke="#231f20" stroke-width="1.0"/>
<line x1="423.45" y1="370.3" x2="423.45" y2="377.3" stroke="#231f20" stroke-width="1.0"/>
<line x1="421.95" y1="370.3" x2="424.95" y2="370.3" stroke="#231f20" stroke-width="1.0"/>
<line x1="421.95" y1="377.3" x2="424.95" y2="377.3" stroke="#231f20" stroke-width="1.0"/>
<line x1="454.42" y1="371.3" x2="454.42" y2="376.3" stroke="#231f20" stroke-width="1.0"/>
<line x1="452.92" y1="371.3" x2="455.92" y2="371.3" stroke="#231f20" stroke-width="1.0"/>
<line x1="452.92" y1="376.3" x2="455.92" y2="376.3" stroke="#231f20" stroke-width="1.0"/>
<line x1="485.4" y1="369.3" x2="485.4" y2="378.3" stroke="#231f20" stroke-width="1.0"/>
<line x1="483.9" y1="369.3" x2="486.9" y2="369.3" stroke="#231f20" stroke-width="1.0"/>
<line x1="483.9" y1="378.3" x2="486.9" y2="378.3" stroke="#231f20" stroke-width="1.0"/>
<line x1="454.42" y1="387.6" x2="454.42" y2="395.6" stroke="#231f20" stroke-width="1.0"/>
<line x1="452.92" y1="387.6" x2="455.92" y2="387.6" stroke="#231f20" stroke-width="1.0"/>
<line x1="452.92" y1="395.6" x2="455.92" y2="395.6" stroke="#231f20" stroke-width="1.0"/>
<line x1="423.45" y1="377.7" x2="423.45" y2="382.7" stroke="#231f20" stroke-width="1.0"/>
<line x1="421.95" y1="377.7" x2="424.95" y2="377.7" stroke="#231f20" stroke-width="1.0"/>
<line x1="421.95" y1="382.7" x2="424.95" y2="382.7" stroke="#231f20" stroke-width="1.0"/>
<polyline points="361.5,373.8 392.48,381.3 423.45,388.9 454.42,391.6 485.4,402.6" fill="none" stroke="#6b4420" stroke-width="1.1" stroke-linejoin="round"/>
<circle cx="361.5" cy="373.8" r="1.6" fill="#5a3310"/>
<circle cx="392.48" cy="381.3" r="1.6" fill="#5a3310"/>
<circle cx="423.45" cy="388.9" r="1.6" fill="#5a3310"/>
<circle cx="454.42" cy="391.6" r="1.6" fill="#5a3310"/>
<circle cx="485.4" cy="402.6" r="1.6" fill="#5a3310"/>
<polyline points="361.5,373.8 392.48,370.9 423.45,376.9 454.42,374 485.4,374.5" fill="none" stroke="#e4a898" stroke-width="1.1" stroke-linejoin="round"/>
<circle cx="361.5" cy="373.8" r="1.6" fill="#d8907f"/>
<circle cx="392.48" cy="370.9" r="1.6" fill="#d8907f"/>
<circle cx="423.45" cy="376.9" r="1.6" fill="#d8907f"/>
<circle cx="454.42" cy="374" r="1.6" fill="#d8907f"/>
<circle cx="485.4" cy="374.5" r="1.6" fill="#d8907f"/>
<polyline points="361.5,373.8 392.48,373.7 423.45,373.7 454.42,374 485.4,373.7" fill="none" stroke="#74489a" stroke-width="1.1" stroke-linejoin="round"/>
<circle cx="361.5" cy="373.8" r="1.6" fill="#43125f"/>
<circle cx="392.48" cy="373.7" r="1.6" fill="#43125f"/>
<circle cx="423.45" cy="373.7" r="1.6" fill="#43125f"/>
<circle cx="454.42" cy="374" r="1.6" fill="#43125f"/>
<circle cx="485.4" cy="373.7" r="1.6" fill="#43125f"/>
<polyline points="361.5,373.8 392.48,378.1 423.45,380.2 454.42,374.3 485.4,372.5" fill="none" stroke="#b8203f" stroke-width="1.1" stroke-linejoin="round"/>
<circle cx="361.5" cy="373.8" r="1.6" fill="#a3002b"/>
<circle cx="392.48" cy="378.1" r="1.6" fill="#a3002b"/>
<circle cx="423.45" cy="380.2" r="1.6" fill="#a3002b"/>
<circle cx="454.42" cy="374.3" r="1.6" fill="#a3002b"/>
<circle cx="485.4" cy="372.5" r="1.6" fill="#a3002b"/>
<line x1="361.5" y1="366.3" x2="361.5" y2="449.5" stroke="#231f20" stroke-width="1.3"/>
<line x1="361" y1="449" x2="488" y2="449" stroke="#231f20" stroke-width="1.3"/>
<line x1="358.7" y1="449" x2="361.5" y2="449" stroke="#231f20" stroke-width="1.1"/>
<text x="355.7" y="451.4" font-size="6.7" text-anchor="end" fill="#231f20" stroke="#231f20" stroke-width="0.17">0</text>
<line x1="358.7" y1="430.2" x2="361.5" y2="430.2" stroke="#231f20" stroke-width="1.1"/>
<text x="355.7" y="432.6" font-size="6.7" text-anchor="end" fill="#231f20" stroke="#231f20" stroke-width="0.17">25</text>
<line x1="358.7" y1="411.4" x2="361.5" y2="411.4" stroke="#231f20" stroke-width="1.1"/>
<text x="355.7" y="413.8" font-size="6.7" text-anchor="end" fill="#231f20" stroke="#231f20" stroke-width="0.17">50</text>
<line x1="358.7" y1="392.6" x2="361.5" y2="392.6" stroke="#231f20" stroke-width="1.1"/>
<text x="355.7" y="395" font-size="6.7" text-anchor="end" fill="#231f20" stroke="#231f20" stroke-width="0.17">75</text>
<line x1="358.7" y1="373.8" x2="361.5" y2="373.8" stroke="#231f20" stroke-width="1.1"/>
<text x="355.7" y="376.2" font-size="6.7" text-anchor="end" fill="#231f20" stroke="#231f20" stroke-width="0.17">100</text>
<line x1="361.5" y1="449" x2="361.5" y2="452" stroke="#231f20" stroke-width="1.1"/>
<text x="361.5" y="460.6" font-size="6.7" text-anchor="middle" fill="#231f20" stroke="#231f20" stroke-width="0.17">0</text>
<line x1="392.48" y1="449" x2="392.48" y2="452" stroke="#231f20" stroke-width="1.1"/>
<text x="392.48" y="460.6" font-size="6.7" text-anchor="middle" fill="#231f20" stroke="#231f20" stroke-width="0.17">2</text>
<line x1="423.45" y1="449" x2="423.45" y2="452" stroke="#231f20" stroke-width="1.1"/>
<text x="423.45" y="460.6" font-size="6.7" text-anchor="middle" fill="#231f20" stroke="#231f20" stroke-width="0.17">4</text>
<line x1="454.42" y1="449" x2="454.42" y2="452" stroke="#231f20" stroke-width="1.1"/>
<text x="454.42" y="460.6" font-size="6.7" text-anchor="middle" fill="#231f20" stroke="#231f20" stroke-width="0.17">6</text>
<line x1="485.4" y1="449" x2="485.4" y2="452" stroke="#231f20" stroke-width="1.1"/>
<text x="485.4" y="460.6" font-size="6.7" text-anchor="middle" fill="#231f20" stroke="#231f20" stroke-width="0.17">8</text>
<text x="425" y="472.1" font-size="8.5" text-anchor="middle" fill="#231f20" stroke="#231f20" stroke-width="0.2" textLength="37.5" lengthAdjust="spacingAndGlyphs">Time (hours)</text>
<text x="330.4" y="408" font-size="9.2" text-anchor="middle" fill="#231f20" stroke="#231f20" stroke-width="0.2" textLength="84" lengthAdjust="spacingAndGlyphs" transform="rotate(-90 330.4 408)">% trypan blue negative cells</text>
<text x="339.5" y="407.5" font-size="9.2" text-anchor="middle" fill="#231f20" stroke="#231f20" stroke-width="0.2" textLength="56" lengthAdjust="spacingAndGlyphs" transform="rotate(-90 339.5 407.5)">(relative to control)</text>
<ellipse cx="421.05" cy="395.7" rx="0.75" ry="0.95" fill="#333"/>
<ellipse cx="423.45" cy="395.7" rx="0.75" ry="0.95" fill="#333"/>
<ellipse cx="425.85" cy="395.7" rx="0.75" ry="0.95" fill="#333"/>
<ellipse cx="453.22" cy="401.9" rx="0.75" ry="0.95" fill="#333"/>
<ellipse cx="455.62" cy="401.9" rx="0.75" ry="0.95" fill="#333"/>
<ellipse cx="483" cy="408.8" rx="0.75" ry="0.95" fill="#333"/>
<ellipse cx="485.4" cy="408.8" rx="0.75" ry="0.95" fill="#333"/>
<ellipse cx="487.8" cy="408.8" rx="0.75" ry="0.95" fill="#333"/>
<line x1="367.8" y1="413.5" x2="376" y2="413.5" stroke="#74489a" stroke-width="1.0"/>
<circle cx="371.9" cy="413.5" r="1.5" fill="#43125f"/>
<text x="381.3" y="415.41" font-size="5.3" fill="#231f20" stroke="#231f20" stroke-width="0.13" textLength="17.3" lengthAdjust="spacingAndGlyphs">Vehicle</text>
<line x1="367.8" y1="422.7" x2="376" y2="422.7" stroke="#e4a898" stroke-width="1.0"/>
<circle cx="371.9" cy="422.7" r="1.5" fill="#d8907f"/>
<text x="381.3" y="424.61" font-size="5.3" fill="#231f20" stroke="#231f20" stroke-width="0.13" textLength="30" lengthAdjust="spacingAndGlyphs">10µM Heme</text>
<line x1="367.8" y1="431.4" x2="376" y2="431.4" stroke="#b8203f" stroke-width="1.0"/>
<circle cx="371.9" cy="431.4" r="1.5" fill="#a3002b"/>
<text x="381.3" y="433.31" font-size="5.3" fill="#231f20" stroke="#231f20" stroke-width="0.13" textLength="29.7" lengthAdjust="spacingAndGlyphs">50µM Heme</text>
<line x1="367.8" y1="440.3" x2="376" y2="440.3" stroke="#6b4420" stroke-width="1.0"/>
<circle cx="371.9" cy="440.3" r="1.5" fill="#5a3310"/>
<text x="381.3" y="442.21" font-size="5.3" fill="#231f20" stroke="#231f20" stroke-width="0.13" textLength="33.2" lengthAdjust="spacingAndGlyphs">100µM Heme</text></svg></body></html>
